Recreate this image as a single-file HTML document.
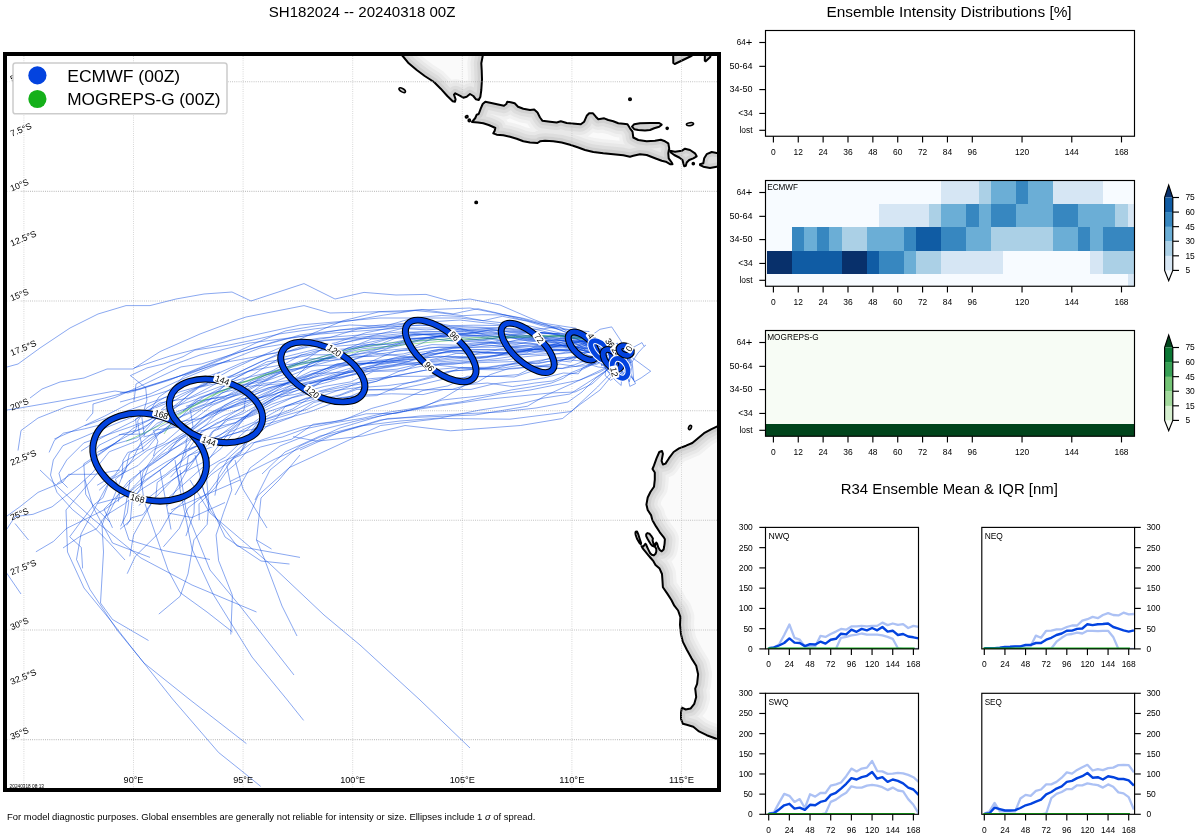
<!DOCTYPE html>
<html><head><meta charset="utf-8"><title>SH182024 ensemble tracks</title>
<style>
html,body{margin:0;padding:0;background:#fff;}
body{width:1200px;height:840px;overflow:hidden;font-family:"Liberation Sans",sans-serif;}
svg{display:block;will-change:transform;font-family:"Liberation Sans",sans-serif;}
</style></head><body>
<svg width="1200" height="840" viewBox="0 0 1200 840">
<rect x="0" y="0" width="1200" height="840" fill="#fff"/>
<defs>
<clipPath id="mapclip"><rect x="5" y="54" width="714" height="736"/></clipPath>
<clipPath id="c_sum"><polygon points="372.0,20.0 402.7,56.0 408.7,63.3 416.7,70.0 424.7,76.0 434.0,82.0 440.7,88.7 447.3,96.0 452.7,101.3 455.0,101.7 455.6,99.3 454.0,94.7 455.3,93.3 459.3,95.3 463.3,97.7 466.7,96.7 470.0,94.0 473.3,96.0 476.0,99.3 478.7,100.0 480.4,96.7 481.3,90.0 482.0,79.3 481.7,70.0 481.3,63.3 482.7,56.0 486.0,20.0"/></clipPath>
<clipPath id="c_java"><polygon points="472.0,122.0 475.3,118.0 476.7,114.7 478.7,114.0 480.7,108.7 482.7,104.0 485.3,101.7 491.3,103.0 499.3,104.7 504.0,105.7 506.3,104.0 507.3,101.7 510.7,102.3 514.7,103.3 518.0,106.7 523.3,108.7 530.0,109.9 534.2,109.5 537.5,112.5 540.0,117.5 542.5,120.8 550.0,121.7 556.7,122.5 560.8,121.3 566.7,123.0 575.0,123.7 580.8,124.2 584.2,121.7 586.7,115.8 589.2,113.3 593.0,113.3 595.8,116.7 598.3,119.2 604.2,118.3 608.3,120.0 613.3,121.3 618.3,123.3 623.3,123.7 627.5,124.2 630.0,128.3 632.5,131.7 633.3,137.5 638.3,140.0 646.7,141.3 655.0,140.8 660.8,139.7 665.0,141.3 668.3,143.3 669.2,148.3 668.3,153.3 668.7,158.3 671.7,162.5 672.5,164.2 670.0,164.2 665.8,161.7 661.7,160.8 655.0,158.3 646.7,155.0 640.0,154.2 633.3,155.8 630.0,156.7 623.3,155.3 613.3,154.2 603.3,153.3 593.3,152.0 585.0,150.0 578.3,147.5 570.0,144.7 561.7,142.5 553.3,141.3 545.0,140.8 540.0,141.3 537.5,143.0 530.0,142.6 523.3,141.3 516.7,138.7 510.0,136.7 503.3,135.3 496.7,134.7 493.3,133.3 494.7,130.7 495.3,128.0 493.3,127.0 488.7,125.0 483.3,123.3 478.0,122.4"/></clipPath>
<clipPath id="c_mad"><polygon points="632.0,126.7 634.2,124.2 640.0,123.3 650.0,123.0 659.2,123.0 661.7,124.7 659.2,126.7 654.2,128.3 650.0,130.0 645.0,130.5 638.3,130.0 634.2,129.2"/></clipPath>
<clipPath id="c_bali"><polygon points="670.0,150.8 675.0,151.7 681.7,150.8 685.0,148.7 690.0,150.0 695.0,153.3 696.7,156.3 693.3,158.3 689.2,160.0 686.7,162.5 685.8,165.8 684.2,166.3 683.3,163.3 682.5,160.0 679.2,157.5 674.2,155.0 670.8,152.5"/></clipPath>
<clipPath id="c_lom"><polygon points="700.0,164.2 703.3,163.3 704.2,158.3 706.7,154.2 711.7,152.0 716.7,153.0 740.0,153.0 740.0,166.7 716.7,166.7 710.0,168.0 703.3,166.7 700.0,165.0"/></clipPath>
<clipPath id="c_t1"><polygon points="673.0,40.0 673.3,63.0 674.7,64.0 691.3,56.0 720.0,40.0"/></clipPath>
<clipPath id="c_t2"><polygon points="705.0,40.0 704.8,60.7 705.7,61.3 710.3,57.0 712.0,40.0"/></clipPath>
<clipPath id="c_aus"><polygon points="760.0,410.0 717.3,426.4 711.0,429.3 704.0,433.2 698.6,437.7 692.3,443.0 686.0,445.7 679.0,448.4 673.6,452.0 669.0,458.2 665.5,463.6 662.9,464.5 661.6,460.9 662.9,453.8 662.0,451.0 659.3,452.0 656.6,458.2 654.0,465.4 652.5,469.0 654.8,472.5 654.8,479.6 654.0,486.8 650.4,492.0 647.7,497.5 646.4,504.6 647.7,510.0 651.2,515.4 652.3,520.0 656.0,526.4 659.8,532.3 663.6,537.1 664.9,539.3 664.6,543.6 664.1,546.8 663.6,549.5 661.7,551.3 659.8,550.0 658.2,547.3 657.1,543.6 656.3,542.5 655.5,543.6 655.0,545.7 653.4,543.6 652.6,540.4 652.9,538.5 651.2,535.8 649.4,533.7 647.5,533.1 646.2,534.2 646.2,536.1 647.5,538.8 649.1,541.4 650.7,544.1 652.3,545.7 655.0,546.8 656.3,548.9 656.3,551.6 655.5,553.8 653.9,555.4 651.8,554.8 650.2,553.2 649.1,551.1 648.0,548.9 647.0,546.8 646.2,544.6 645.4,543.8 644.3,545.2 643.2,546.5 641.6,546.2 642.7,548.4 645.4,551.6 648.0,554.8 650.7,558.0 653.4,561.2 655.5,565.0 659.6,568.6 662.0,574.0 662.5,581.0 662.9,587.3 667.3,593.6 671.4,600.0 674.3,605.7 678.1,610.5 680.4,617.1 680.0,624.8 681.0,634.3 682.9,641.9 686.7,649.5 691.4,658.1 696.2,665.7 698.1,674.3 697.1,683.8 695.2,688.6 696.2,697.1 694.3,703.8 690.5,708.6 685.7,709.5 681.9,707.6 681.0,712.4 681.0,719.0 682.9,723.8 686.7,724.8 693.3,726.7 699.0,731.4 706.7,735.2 716.2,738.7 760.0,750.0"/></clipPath>
<clipPath id="c_dirk"><polygon points="635.7,531.8 637.0,531.5 638.1,533.9 639.5,538.2 641.1,543.0 640.8,544.4 639.2,542.5 637.0,538.8 635.7,535.0 635.4,532.9"/></clipPath>
</defs>
<g clip-path="url(#mapclip)">
<g clip-path="url(#c_sum)"><polygon points="372.0,20.0 402.7,56.0 408.7,63.3 416.7,70.0 424.7,76.0 434.0,82.0 440.7,88.7 447.3,96.0 452.7,101.3 455.0,101.7 455.6,99.3 454.0,94.7 455.3,93.3 459.3,95.3 463.3,97.7 466.7,96.7 470.0,94.0 473.3,96.0 476.0,99.3 478.7,100.0 480.4,96.7 481.3,90.0 482.0,79.3 481.7,70.0 481.3,63.3 482.7,56.0 486.0,20.0" fill="#fafafa"/>
<polygon points="372.0,20.0 402.7,56.0 408.7,63.3 416.7,70.0 424.7,76.0 434.0,82.0 440.7,88.7 447.3,96.0 452.7,101.3 455.0,101.7 455.6,99.3 454.0,94.7 455.3,93.3 459.3,95.3 463.3,97.7 466.7,96.7 470.0,94.0 473.3,96.0 476.0,99.3 478.7,100.0 480.4,96.7 481.3,90.0 482.0,79.3 481.7,70.0 481.3,63.3 482.7,56.0 486.0,20.0" fill="none" stroke="#f1f1f1" stroke-width="28" stroke-linejoin="round"/>
<polygon points="372.0,20.0 402.7,56.0 408.7,63.3 416.7,70.0 424.7,76.0 434.0,82.0 440.7,88.7 447.3,96.0 452.7,101.3 455.0,101.7 455.6,99.3 454.0,94.7 455.3,93.3 459.3,95.3 463.3,97.7 466.7,96.7 470.0,94.0 473.3,96.0 476.0,99.3 478.7,100.0 480.4,96.7 481.3,90.0 482.0,79.3 481.7,70.0 481.3,63.3 482.7,56.0 486.0,20.0" fill="none" stroke="#e8e8e8" stroke-width="21.5" stroke-linejoin="round"/>
<polygon points="372.0,20.0 402.7,56.0 408.7,63.3 416.7,70.0 424.7,76.0 434.0,82.0 440.7,88.7 447.3,96.0 452.7,101.3 455.0,101.7 455.6,99.3 454.0,94.7 455.3,93.3 459.3,95.3 463.3,97.7 466.7,96.7 470.0,94.0 473.3,96.0 476.0,99.3 478.7,100.0 480.4,96.7 481.3,90.0 482.0,79.3 481.7,70.0 481.3,63.3 482.7,56.0 486.0,20.0" fill="none" stroke="#dddddd" stroke-width="15" stroke-linejoin="round"/>
<polygon points="372.0,20.0 402.7,56.0 408.7,63.3 416.7,70.0 424.7,76.0 434.0,82.0 440.7,88.7 447.3,96.0 452.7,101.3 455.0,101.7 455.6,99.3 454.0,94.7 455.3,93.3 459.3,95.3 463.3,97.7 466.7,96.7 470.0,94.0 473.3,96.0 476.0,99.3 478.7,100.0 480.4,96.7 481.3,90.0 482.0,79.3 481.7,70.0 481.3,63.3 482.7,56.0 486.0,20.0" fill="none" stroke="#d0d0d0" stroke-width="8.4" stroke-linejoin="round"/>
</g>
<g clip-path="url(#c_java)"><polygon points="472.0,122.0 475.3,118.0 476.7,114.7 478.7,114.0 480.7,108.7 482.7,104.0 485.3,101.7 491.3,103.0 499.3,104.7 504.0,105.7 506.3,104.0 507.3,101.7 510.7,102.3 514.7,103.3 518.0,106.7 523.3,108.7 530.0,109.9 534.2,109.5 537.5,112.5 540.0,117.5 542.5,120.8 550.0,121.7 556.7,122.5 560.8,121.3 566.7,123.0 575.0,123.7 580.8,124.2 584.2,121.7 586.7,115.8 589.2,113.3 593.0,113.3 595.8,116.7 598.3,119.2 604.2,118.3 608.3,120.0 613.3,121.3 618.3,123.3 623.3,123.7 627.5,124.2 630.0,128.3 632.5,131.7 633.3,137.5 638.3,140.0 646.7,141.3 655.0,140.8 660.8,139.7 665.0,141.3 668.3,143.3 669.2,148.3 668.3,153.3 668.7,158.3 671.7,162.5 672.5,164.2 670.0,164.2 665.8,161.7 661.7,160.8 655.0,158.3 646.7,155.0 640.0,154.2 633.3,155.8 630.0,156.7 623.3,155.3 613.3,154.2 603.3,153.3 593.3,152.0 585.0,150.0 578.3,147.5 570.0,144.7 561.7,142.5 553.3,141.3 545.0,140.8 540.0,141.3 537.5,143.0 530.0,142.6 523.3,141.3 516.7,138.7 510.0,136.7 503.3,135.3 496.7,134.7 493.3,133.3 494.7,130.7 495.3,128.0 493.3,127.0 488.7,125.0 483.3,123.3 478.0,122.4" fill="#fafafa"/>
<polygon points="472.0,122.0 475.3,118.0 476.7,114.7 478.7,114.0 480.7,108.7 482.7,104.0 485.3,101.7 491.3,103.0 499.3,104.7 504.0,105.7 506.3,104.0 507.3,101.7 510.7,102.3 514.7,103.3 518.0,106.7 523.3,108.7 530.0,109.9 534.2,109.5 537.5,112.5 540.0,117.5 542.5,120.8 550.0,121.7 556.7,122.5 560.8,121.3 566.7,123.0 575.0,123.7 580.8,124.2 584.2,121.7 586.7,115.8 589.2,113.3 593.0,113.3 595.8,116.7 598.3,119.2 604.2,118.3 608.3,120.0 613.3,121.3 618.3,123.3 623.3,123.7 627.5,124.2 630.0,128.3 632.5,131.7 633.3,137.5 638.3,140.0 646.7,141.3 655.0,140.8 660.8,139.7 665.0,141.3 668.3,143.3 669.2,148.3 668.3,153.3 668.7,158.3 671.7,162.5 672.5,164.2 670.0,164.2 665.8,161.7 661.7,160.8 655.0,158.3 646.7,155.0 640.0,154.2 633.3,155.8 630.0,156.7 623.3,155.3 613.3,154.2 603.3,153.3 593.3,152.0 585.0,150.0 578.3,147.5 570.0,144.7 561.7,142.5 553.3,141.3 545.0,140.8 540.0,141.3 537.5,143.0 530.0,142.6 523.3,141.3 516.7,138.7 510.0,136.7 503.3,135.3 496.7,134.7 493.3,133.3 494.7,130.7 495.3,128.0 493.3,127.0 488.7,125.0 483.3,123.3 478.0,122.4" fill="none" stroke="#f1f1f1" stroke-width="28" stroke-linejoin="round"/>
<polygon points="472.0,122.0 475.3,118.0 476.7,114.7 478.7,114.0 480.7,108.7 482.7,104.0 485.3,101.7 491.3,103.0 499.3,104.7 504.0,105.7 506.3,104.0 507.3,101.7 510.7,102.3 514.7,103.3 518.0,106.7 523.3,108.7 530.0,109.9 534.2,109.5 537.5,112.5 540.0,117.5 542.5,120.8 550.0,121.7 556.7,122.5 560.8,121.3 566.7,123.0 575.0,123.7 580.8,124.2 584.2,121.7 586.7,115.8 589.2,113.3 593.0,113.3 595.8,116.7 598.3,119.2 604.2,118.3 608.3,120.0 613.3,121.3 618.3,123.3 623.3,123.7 627.5,124.2 630.0,128.3 632.5,131.7 633.3,137.5 638.3,140.0 646.7,141.3 655.0,140.8 660.8,139.7 665.0,141.3 668.3,143.3 669.2,148.3 668.3,153.3 668.7,158.3 671.7,162.5 672.5,164.2 670.0,164.2 665.8,161.7 661.7,160.8 655.0,158.3 646.7,155.0 640.0,154.2 633.3,155.8 630.0,156.7 623.3,155.3 613.3,154.2 603.3,153.3 593.3,152.0 585.0,150.0 578.3,147.5 570.0,144.7 561.7,142.5 553.3,141.3 545.0,140.8 540.0,141.3 537.5,143.0 530.0,142.6 523.3,141.3 516.7,138.7 510.0,136.7 503.3,135.3 496.7,134.7 493.3,133.3 494.7,130.7 495.3,128.0 493.3,127.0 488.7,125.0 483.3,123.3 478.0,122.4" fill="none" stroke="#e8e8e8" stroke-width="21.5" stroke-linejoin="round"/>
<polygon points="472.0,122.0 475.3,118.0 476.7,114.7 478.7,114.0 480.7,108.7 482.7,104.0 485.3,101.7 491.3,103.0 499.3,104.7 504.0,105.7 506.3,104.0 507.3,101.7 510.7,102.3 514.7,103.3 518.0,106.7 523.3,108.7 530.0,109.9 534.2,109.5 537.5,112.5 540.0,117.5 542.5,120.8 550.0,121.7 556.7,122.5 560.8,121.3 566.7,123.0 575.0,123.7 580.8,124.2 584.2,121.7 586.7,115.8 589.2,113.3 593.0,113.3 595.8,116.7 598.3,119.2 604.2,118.3 608.3,120.0 613.3,121.3 618.3,123.3 623.3,123.7 627.5,124.2 630.0,128.3 632.5,131.7 633.3,137.5 638.3,140.0 646.7,141.3 655.0,140.8 660.8,139.7 665.0,141.3 668.3,143.3 669.2,148.3 668.3,153.3 668.7,158.3 671.7,162.5 672.5,164.2 670.0,164.2 665.8,161.7 661.7,160.8 655.0,158.3 646.7,155.0 640.0,154.2 633.3,155.8 630.0,156.7 623.3,155.3 613.3,154.2 603.3,153.3 593.3,152.0 585.0,150.0 578.3,147.5 570.0,144.7 561.7,142.5 553.3,141.3 545.0,140.8 540.0,141.3 537.5,143.0 530.0,142.6 523.3,141.3 516.7,138.7 510.0,136.7 503.3,135.3 496.7,134.7 493.3,133.3 494.7,130.7 495.3,128.0 493.3,127.0 488.7,125.0 483.3,123.3 478.0,122.4" fill="none" stroke="#dddddd" stroke-width="15" stroke-linejoin="round"/>
<polygon points="472.0,122.0 475.3,118.0 476.7,114.7 478.7,114.0 480.7,108.7 482.7,104.0 485.3,101.7 491.3,103.0 499.3,104.7 504.0,105.7 506.3,104.0 507.3,101.7 510.7,102.3 514.7,103.3 518.0,106.7 523.3,108.7 530.0,109.9 534.2,109.5 537.5,112.5 540.0,117.5 542.5,120.8 550.0,121.7 556.7,122.5 560.8,121.3 566.7,123.0 575.0,123.7 580.8,124.2 584.2,121.7 586.7,115.8 589.2,113.3 593.0,113.3 595.8,116.7 598.3,119.2 604.2,118.3 608.3,120.0 613.3,121.3 618.3,123.3 623.3,123.7 627.5,124.2 630.0,128.3 632.5,131.7 633.3,137.5 638.3,140.0 646.7,141.3 655.0,140.8 660.8,139.7 665.0,141.3 668.3,143.3 669.2,148.3 668.3,153.3 668.7,158.3 671.7,162.5 672.5,164.2 670.0,164.2 665.8,161.7 661.7,160.8 655.0,158.3 646.7,155.0 640.0,154.2 633.3,155.8 630.0,156.7 623.3,155.3 613.3,154.2 603.3,153.3 593.3,152.0 585.0,150.0 578.3,147.5 570.0,144.7 561.7,142.5 553.3,141.3 545.0,140.8 540.0,141.3 537.5,143.0 530.0,142.6 523.3,141.3 516.7,138.7 510.0,136.7 503.3,135.3 496.7,134.7 493.3,133.3 494.7,130.7 495.3,128.0 493.3,127.0 488.7,125.0 483.3,123.3 478.0,122.4" fill="none" stroke="#d0d0d0" stroke-width="8.4" stroke-linejoin="round"/>
</g>
<g clip-path="url(#c_mad)"><polygon points="632.0,126.7 634.2,124.2 640.0,123.3 650.0,123.0 659.2,123.0 661.7,124.7 659.2,126.7 654.2,128.3 650.0,130.0 645.0,130.5 638.3,130.0 634.2,129.2" fill="#fafafa"/>
<polygon points="632.0,126.7 634.2,124.2 640.0,123.3 650.0,123.0 659.2,123.0 661.7,124.7 659.2,126.7 654.2,128.3 650.0,130.0 645.0,130.5 638.3,130.0 634.2,129.2" fill="none" stroke="#f1f1f1" stroke-width="28" stroke-linejoin="round"/>
<polygon points="632.0,126.7 634.2,124.2 640.0,123.3 650.0,123.0 659.2,123.0 661.7,124.7 659.2,126.7 654.2,128.3 650.0,130.0 645.0,130.5 638.3,130.0 634.2,129.2" fill="none" stroke="#e8e8e8" stroke-width="21.5" stroke-linejoin="round"/>
<polygon points="632.0,126.7 634.2,124.2 640.0,123.3 650.0,123.0 659.2,123.0 661.7,124.7 659.2,126.7 654.2,128.3 650.0,130.0 645.0,130.5 638.3,130.0 634.2,129.2" fill="none" stroke="#dddddd" stroke-width="15" stroke-linejoin="round"/>
<polygon points="632.0,126.7 634.2,124.2 640.0,123.3 650.0,123.0 659.2,123.0 661.7,124.7 659.2,126.7 654.2,128.3 650.0,130.0 645.0,130.5 638.3,130.0 634.2,129.2" fill="none" stroke="#d0d0d0" stroke-width="8.4" stroke-linejoin="round"/>
</g>
<g clip-path="url(#c_bali)"><polygon points="670.0,150.8 675.0,151.7 681.7,150.8 685.0,148.7 690.0,150.0 695.0,153.3 696.7,156.3 693.3,158.3 689.2,160.0 686.7,162.5 685.8,165.8 684.2,166.3 683.3,163.3 682.5,160.0 679.2,157.5 674.2,155.0 670.8,152.5" fill="#fafafa"/>
<polygon points="670.0,150.8 675.0,151.7 681.7,150.8 685.0,148.7 690.0,150.0 695.0,153.3 696.7,156.3 693.3,158.3 689.2,160.0 686.7,162.5 685.8,165.8 684.2,166.3 683.3,163.3 682.5,160.0 679.2,157.5 674.2,155.0 670.8,152.5" fill="none" stroke="#f1f1f1" stroke-width="28" stroke-linejoin="round"/>
<polygon points="670.0,150.8 675.0,151.7 681.7,150.8 685.0,148.7 690.0,150.0 695.0,153.3 696.7,156.3 693.3,158.3 689.2,160.0 686.7,162.5 685.8,165.8 684.2,166.3 683.3,163.3 682.5,160.0 679.2,157.5 674.2,155.0 670.8,152.5" fill="none" stroke="#e8e8e8" stroke-width="21.5" stroke-linejoin="round"/>
<polygon points="670.0,150.8 675.0,151.7 681.7,150.8 685.0,148.7 690.0,150.0 695.0,153.3 696.7,156.3 693.3,158.3 689.2,160.0 686.7,162.5 685.8,165.8 684.2,166.3 683.3,163.3 682.5,160.0 679.2,157.5 674.2,155.0 670.8,152.5" fill="none" stroke="#dddddd" stroke-width="15" stroke-linejoin="round"/>
<polygon points="670.0,150.8 675.0,151.7 681.7,150.8 685.0,148.7 690.0,150.0 695.0,153.3 696.7,156.3 693.3,158.3 689.2,160.0 686.7,162.5 685.8,165.8 684.2,166.3 683.3,163.3 682.5,160.0 679.2,157.5 674.2,155.0 670.8,152.5" fill="none" stroke="#d0d0d0" stroke-width="8.4" stroke-linejoin="round"/>
</g>
<g clip-path="url(#c_lom)"><polygon points="700.0,164.2 703.3,163.3 704.2,158.3 706.7,154.2 711.7,152.0 716.7,153.0 740.0,153.0 740.0,166.7 716.7,166.7 710.0,168.0 703.3,166.7 700.0,165.0" fill="#fafafa"/>
<polygon points="700.0,164.2 703.3,163.3 704.2,158.3 706.7,154.2 711.7,152.0 716.7,153.0 740.0,153.0 740.0,166.7 716.7,166.7 710.0,168.0 703.3,166.7 700.0,165.0" fill="none" stroke="#f1f1f1" stroke-width="28" stroke-linejoin="round"/>
<polygon points="700.0,164.2 703.3,163.3 704.2,158.3 706.7,154.2 711.7,152.0 716.7,153.0 740.0,153.0 740.0,166.7 716.7,166.7 710.0,168.0 703.3,166.7 700.0,165.0" fill="none" stroke="#e8e8e8" stroke-width="21.5" stroke-linejoin="round"/>
<polygon points="700.0,164.2 703.3,163.3 704.2,158.3 706.7,154.2 711.7,152.0 716.7,153.0 740.0,153.0 740.0,166.7 716.7,166.7 710.0,168.0 703.3,166.7 700.0,165.0" fill="none" stroke="#dddddd" stroke-width="15" stroke-linejoin="round"/>
<polygon points="700.0,164.2 703.3,163.3 704.2,158.3 706.7,154.2 711.7,152.0 716.7,153.0 740.0,153.0 740.0,166.7 716.7,166.7 710.0,168.0 703.3,166.7 700.0,165.0" fill="none" stroke="#d0d0d0" stroke-width="8.4" stroke-linejoin="round"/>
</g>
<g clip-path="url(#c_t1)"><polygon points="673.0,40.0 673.3,63.0 674.7,64.0 691.3,56.0 720.0,40.0" fill="#fafafa"/>
<polygon points="673.0,40.0 673.3,63.0 674.7,64.0 691.3,56.0 720.0,40.0" fill="none" stroke="#f1f1f1" stroke-width="28" stroke-linejoin="round"/>
<polygon points="673.0,40.0 673.3,63.0 674.7,64.0 691.3,56.0 720.0,40.0" fill="none" stroke="#e8e8e8" stroke-width="21.5" stroke-linejoin="round"/>
<polygon points="673.0,40.0 673.3,63.0 674.7,64.0 691.3,56.0 720.0,40.0" fill="none" stroke="#dddddd" stroke-width="15" stroke-linejoin="round"/>
<polygon points="673.0,40.0 673.3,63.0 674.7,64.0 691.3,56.0 720.0,40.0" fill="none" stroke="#d0d0d0" stroke-width="8.4" stroke-linejoin="round"/>
</g>
<g clip-path="url(#c_t2)"><polygon points="705.0,40.0 704.8,60.7 705.7,61.3 710.3,57.0 712.0,40.0" fill="#fafafa"/>
<polygon points="705.0,40.0 704.8,60.7 705.7,61.3 710.3,57.0 712.0,40.0" fill="none" stroke="#f1f1f1" stroke-width="28" stroke-linejoin="round"/>
<polygon points="705.0,40.0 704.8,60.7 705.7,61.3 710.3,57.0 712.0,40.0" fill="none" stroke="#e8e8e8" stroke-width="21.5" stroke-linejoin="round"/>
<polygon points="705.0,40.0 704.8,60.7 705.7,61.3 710.3,57.0 712.0,40.0" fill="none" stroke="#dddddd" stroke-width="15" stroke-linejoin="round"/>
<polygon points="705.0,40.0 704.8,60.7 705.7,61.3 710.3,57.0 712.0,40.0" fill="none" stroke="#d0d0d0" stroke-width="8.4" stroke-linejoin="round"/>
</g>
<g clip-path="url(#c_aus)"><polygon points="760.0,410.0 717.3,426.4 711.0,429.3 704.0,433.2 698.6,437.7 692.3,443.0 686.0,445.7 679.0,448.4 673.6,452.0 669.0,458.2 665.5,463.6 662.9,464.5 661.6,460.9 662.9,453.8 662.0,451.0 659.3,452.0 656.6,458.2 654.0,465.4 652.5,469.0 654.8,472.5 654.8,479.6 654.0,486.8 650.4,492.0 647.7,497.5 646.4,504.6 647.7,510.0 651.2,515.4 652.3,520.0 656.0,526.4 659.8,532.3 663.6,537.1 664.9,539.3 664.6,543.6 664.1,546.8 663.6,549.5 661.7,551.3 659.8,550.0 658.2,547.3 657.1,543.6 656.3,542.5 655.5,543.6 655.0,545.7 653.4,543.6 652.6,540.4 652.9,538.5 651.2,535.8 649.4,533.7 647.5,533.1 646.2,534.2 646.2,536.1 647.5,538.8 649.1,541.4 650.7,544.1 652.3,545.7 655.0,546.8 656.3,548.9 656.3,551.6 655.5,553.8 653.9,555.4 651.8,554.8 650.2,553.2 649.1,551.1 648.0,548.9 647.0,546.8 646.2,544.6 645.4,543.8 644.3,545.2 643.2,546.5 641.6,546.2 642.7,548.4 645.4,551.6 648.0,554.8 650.7,558.0 653.4,561.2 655.5,565.0 659.6,568.6 662.0,574.0 662.5,581.0 662.9,587.3 667.3,593.6 671.4,600.0 674.3,605.7 678.1,610.5 680.4,617.1 680.0,624.8 681.0,634.3 682.9,641.9 686.7,649.5 691.4,658.1 696.2,665.7 698.1,674.3 697.1,683.8 695.2,688.6 696.2,697.1 694.3,703.8 690.5,708.6 685.7,709.5 681.9,707.6 681.0,712.4 681.0,719.0 682.9,723.8 686.7,724.8 693.3,726.7 699.0,731.4 706.7,735.2 716.2,738.7 760.0,750.0" fill="#fafafa"/>
<polygon points="760.0,410.0 717.3,426.4 711.0,429.3 704.0,433.2 698.6,437.7 692.3,443.0 686.0,445.7 679.0,448.4 673.6,452.0 669.0,458.2 665.5,463.6 662.9,464.5 661.6,460.9 662.9,453.8 662.0,451.0 659.3,452.0 656.6,458.2 654.0,465.4 652.5,469.0 654.8,472.5 654.8,479.6 654.0,486.8 650.4,492.0 647.7,497.5 646.4,504.6 647.7,510.0 651.2,515.4 652.3,520.0 656.0,526.4 659.8,532.3 663.6,537.1 664.9,539.3 664.6,543.6 664.1,546.8 663.6,549.5 661.7,551.3 659.8,550.0 658.2,547.3 657.1,543.6 656.3,542.5 655.5,543.6 655.0,545.7 653.4,543.6 652.6,540.4 652.9,538.5 651.2,535.8 649.4,533.7 647.5,533.1 646.2,534.2 646.2,536.1 647.5,538.8 649.1,541.4 650.7,544.1 652.3,545.7 655.0,546.8 656.3,548.9 656.3,551.6 655.5,553.8 653.9,555.4 651.8,554.8 650.2,553.2 649.1,551.1 648.0,548.9 647.0,546.8 646.2,544.6 645.4,543.8 644.3,545.2 643.2,546.5 641.6,546.2 642.7,548.4 645.4,551.6 648.0,554.8 650.7,558.0 653.4,561.2 655.5,565.0 659.6,568.6 662.0,574.0 662.5,581.0 662.9,587.3 667.3,593.6 671.4,600.0 674.3,605.7 678.1,610.5 680.4,617.1 680.0,624.8 681.0,634.3 682.9,641.9 686.7,649.5 691.4,658.1 696.2,665.7 698.1,674.3 697.1,683.8 695.2,688.6 696.2,697.1 694.3,703.8 690.5,708.6 685.7,709.5 681.9,707.6 681.0,712.4 681.0,719.0 682.9,723.8 686.7,724.8 693.3,726.7 699.0,731.4 706.7,735.2 716.2,738.7 760.0,750.0" fill="none" stroke="#f1f1f1" stroke-width="28" stroke-linejoin="round"/>
<polygon points="760.0,410.0 717.3,426.4 711.0,429.3 704.0,433.2 698.6,437.7 692.3,443.0 686.0,445.7 679.0,448.4 673.6,452.0 669.0,458.2 665.5,463.6 662.9,464.5 661.6,460.9 662.9,453.8 662.0,451.0 659.3,452.0 656.6,458.2 654.0,465.4 652.5,469.0 654.8,472.5 654.8,479.6 654.0,486.8 650.4,492.0 647.7,497.5 646.4,504.6 647.7,510.0 651.2,515.4 652.3,520.0 656.0,526.4 659.8,532.3 663.6,537.1 664.9,539.3 664.6,543.6 664.1,546.8 663.6,549.5 661.7,551.3 659.8,550.0 658.2,547.3 657.1,543.6 656.3,542.5 655.5,543.6 655.0,545.7 653.4,543.6 652.6,540.4 652.9,538.5 651.2,535.8 649.4,533.7 647.5,533.1 646.2,534.2 646.2,536.1 647.5,538.8 649.1,541.4 650.7,544.1 652.3,545.7 655.0,546.8 656.3,548.9 656.3,551.6 655.5,553.8 653.9,555.4 651.8,554.8 650.2,553.2 649.1,551.1 648.0,548.9 647.0,546.8 646.2,544.6 645.4,543.8 644.3,545.2 643.2,546.5 641.6,546.2 642.7,548.4 645.4,551.6 648.0,554.8 650.7,558.0 653.4,561.2 655.5,565.0 659.6,568.6 662.0,574.0 662.5,581.0 662.9,587.3 667.3,593.6 671.4,600.0 674.3,605.7 678.1,610.5 680.4,617.1 680.0,624.8 681.0,634.3 682.9,641.9 686.7,649.5 691.4,658.1 696.2,665.7 698.1,674.3 697.1,683.8 695.2,688.6 696.2,697.1 694.3,703.8 690.5,708.6 685.7,709.5 681.9,707.6 681.0,712.4 681.0,719.0 682.9,723.8 686.7,724.8 693.3,726.7 699.0,731.4 706.7,735.2 716.2,738.7 760.0,750.0" fill="none" stroke="#e8e8e8" stroke-width="21.5" stroke-linejoin="round"/>
<polygon points="760.0,410.0 717.3,426.4 711.0,429.3 704.0,433.2 698.6,437.7 692.3,443.0 686.0,445.7 679.0,448.4 673.6,452.0 669.0,458.2 665.5,463.6 662.9,464.5 661.6,460.9 662.9,453.8 662.0,451.0 659.3,452.0 656.6,458.2 654.0,465.4 652.5,469.0 654.8,472.5 654.8,479.6 654.0,486.8 650.4,492.0 647.7,497.5 646.4,504.6 647.7,510.0 651.2,515.4 652.3,520.0 656.0,526.4 659.8,532.3 663.6,537.1 664.9,539.3 664.6,543.6 664.1,546.8 663.6,549.5 661.7,551.3 659.8,550.0 658.2,547.3 657.1,543.6 656.3,542.5 655.5,543.6 655.0,545.7 653.4,543.6 652.6,540.4 652.9,538.5 651.2,535.8 649.4,533.7 647.5,533.1 646.2,534.2 646.2,536.1 647.5,538.8 649.1,541.4 650.7,544.1 652.3,545.7 655.0,546.8 656.3,548.9 656.3,551.6 655.5,553.8 653.9,555.4 651.8,554.8 650.2,553.2 649.1,551.1 648.0,548.9 647.0,546.8 646.2,544.6 645.4,543.8 644.3,545.2 643.2,546.5 641.6,546.2 642.7,548.4 645.4,551.6 648.0,554.8 650.7,558.0 653.4,561.2 655.5,565.0 659.6,568.6 662.0,574.0 662.5,581.0 662.9,587.3 667.3,593.6 671.4,600.0 674.3,605.7 678.1,610.5 680.4,617.1 680.0,624.8 681.0,634.3 682.9,641.9 686.7,649.5 691.4,658.1 696.2,665.7 698.1,674.3 697.1,683.8 695.2,688.6 696.2,697.1 694.3,703.8 690.5,708.6 685.7,709.5 681.9,707.6 681.0,712.4 681.0,719.0 682.9,723.8 686.7,724.8 693.3,726.7 699.0,731.4 706.7,735.2 716.2,738.7 760.0,750.0" fill="none" stroke="#dddddd" stroke-width="15" stroke-linejoin="round"/>
<polygon points="760.0,410.0 717.3,426.4 711.0,429.3 704.0,433.2 698.6,437.7 692.3,443.0 686.0,445.7 679.0,448.4 673.6,452.0 669.0,458.2 665.5,463.6 662.9,464.5 661.6,460.9 662.9,453.8 662.0,451.0 659.3,452.0 656.6,458.2 654.0,465.4 652.5,469.0 654.8,472.5 654.8,479.6 654.0,486.8 650.4,492.0 647.7,497.5 646.4,504.6 647.7,510.0 651.2,515.4 652.3,520.0 656.0,526.4 659.8,532.3 663.6,537.1 664.9,539.3 664.6,543.6 664.1,546.8 663.6,549.5 661.7,551.3 659.8,550.0 658.2,547.3 657.1,543.6 656.3,542.5 655.5,543.6 655.0,545.7 653.4,543.6 652.6,540.4 652.9,538.5 651.2,535.8 649.4,533.7 647.5,533.1 646.2,534.2 646.2,536.1 647.5,538.8 649.1,541.4 650.7,544.1 652.3,545.7 655.0,546.8 656.3,548.9 656.3,551.6 655.5,553.8 653.9,555.4 651.8,554.8 650.2,553.2 649.1,551.1 648.0,548.9 647.0,546.8 646.2,544.6 645.4,543.8 644.3,545.2 643.2,546.5 641.6,546.2 642.7,548.4 645.4,551.6 648.0,554.8 650.7,558.0 653.4,561.2 655.5,565.0 659.6,568.6 662.0,574.0 662.5,581.0 662.9,587.3 667.3,593.6 671.4,600.0 674.3,605.7 678.1,610.5 680.4,617.1 680.0,624.8 681.0,634.3 682.9,641.9 686.7,649.5 691.4,658.1 696.2,665.7 698.1,674.3 697.1,683.8 695.2,688.6 696.2,697.1 694.3,703.8 690.5,708.6 685.7,709.5 681.9,707.6 681.0,712.4 681.0,719.0 682.9,723.8 686.7,724.8 693.3,726.7 699.0,731.4 706.7,735.2 716.2,738.7 760.0,750.0" fill="none" stroke="#d0d0d0" stroke-width="8.4" stroke-linejoin="round"/>
</g>
<g clip-path="url(#c_dirk)"><polygon points="635.7,531.8 637.0,531.5 638.1,533.9 639.5,538.2 641.1,543.0 640.8,544.4 639.2,542.5 637.0,538.8 635.7,535.0 635.4,532.9" fill="#fafafa"/>
<polygon points="635.7,531.8 637.0,531.5 638.1,533.9 639.5,538.2 641.1,543.0 640.8,544.4 639.2,542.5 637.0,538.8 635.7,535.0 635.4,532.9" fill="none" stroke="#f1f1f1" stroke-width="28" stroke-linejoin="round"/>
<polygon points="635.7,531.8 637.0,531.5 638.1,533.9 639.5,538.2 641.1,543.0 640.8,544.4 639.2,542.5 637.0,538.8 635.7,535.0 635.4,532.9" fill="none" stroke="#e8e8e8" stroke-width="21.5" stroke-linejoin="round"/>
<polygon points="635.7,531.8 637.0,531.5 638.1,533.9 639.5,538.2 641.1,543.0 640.8,544.4 639.2,542.5 637.0,538.8 635.7,535.0 635.4,532.9" fill="none" stroke="#dddddd" stroke-width="15" stroke-linejoin="round"/>
<polygon points="635.7,531.8 637.0,531.5 638.1,533.9 639.5,538.2 641.1,543.0 640.8,544.4 639.2,542.5 637.0,538.8 635.7,535.0 635.4,532.9" fill="none" stroke="#d0d0d0" stroke-width="8.4" stroke-linejoin="round"/>
</g>
<polygon points="372.0,20.0 402.7,56.0 408.7,63.3 416.7,70.0 424.7,76.0 434.0,82.0 440.7,88.7 447.3,96.0 452.7,101.3 455.0,101.7 455.6,99.3 454.0,94.7 455.3,93.3 459.3,95.3 463.3,97.7 466.7,96.7 470.0,94.0 473.3,96.0 476.0,99.3 478.7,100.0 480.4,96.7 481.3,90.0 482.0,79.3 481.7,70.0 481.3,63.3 482.7,56.0 486.0,20.0" fill="none" stroke="#000" stroke-width="2.0" stroke-linejoin="round"/>
<polygon points="472.0,122.0 475.3,118.0 476.7,114.7 478.7,114.0 480.7,108.7 482.7,104.0 485.3,101.7 491.3,103.0 499.3,104.7 504.0,105.7 506.3,104.0 507.3,101.7 510.7,102.3 514.7,103.3 518.0,106.7 523.3,108.7 530.0,109.9 534.2,109.5 537.5,112.5 540.0,117.5 542.5,120.8 550.0,121.7 556.7,122.5 560.8,121.3 566.7,123.0 575.0,123.7 580.8,124.2 584.2,121.7 586.7,115.8 589.2,113.3 593.0,113.3 595.8,116.7 598.3,119.2 604.2,118.3 608.3,120.0 613.3,121.3 618.3,123.3 623.3,123.7 627.5,124.2 630.0,128.3 632.5,131.7 633.3,137.5 638.3,140.0 646.7,141.3 655.0,140.8 660.8,139.7 665.0,141.3 668.3,143.3 669.2,148.3 668.3,153.3 668.7,158.3 671.7,162.5 672.5,164.2 670.0,164.2 665.8,161.7 661.7,160.8 655.0,158.3 646.7,155.0 640.0,154.2 633.3,155.8 630.0,156.7 623.3,155.3 613.3,154.2 603.3,153.3 593.3,152.0 585.0,150.0 578.3,147.5 570.0,144.7 561.7,142.5 553.3,141.3 545.0,140.8 540.0,141.3 537.5,143.0 530.0,142.6 523.3,141.3 516.7,138.7 510.0,136.7 503.3,135.3 496.7,134.7 493.3,133.3 494.7,130.7 495.3,128.0 493.3,127.0 488.7,125.0 483.3,123.3 478.0,122.4" fill="none" stroke="#000" stroke-width="2.0" stroke-linejoin="round"/>
<polygon points="632.0,126.7 634.2,124.2 640.0,123.3 650.0,123.0 659.2,123.0 661.7,124.7 659.2,126.7 654.2,128.3 650.0,130.0 645.0,130.5 638.3,130.0 634.2,129.2" fill="none" stroke="#000" stroke-width="2.0" stroke-linejoin="round"/>
<polygon points="670.0,150.8 675.0,151.7 681.7,150.8 685.0,148.7 690.0,150.0 695.0,153.3 696.7,156.3 693.3,158.3 689.2,160.0 686.7,162.5 685.8,165.8 684.2,166.3 683.3,163.3 682.5,160.0 679.2,157.5 674.2,155.0 670.8,152.5" fill="none" stroke="#000" stroke-width="2.0" stroke-linejoin="round"/>
<polygon points="700.0,164.2 703.3,163.3 704.2,158.3 706.7,154.2 711.7,152.0 716.7,153.0 740.0,153.0 740.0,166.7 716.7,166.7 710.0,168.0 703.3,166.7 700.0,165.0" fill="none" stroke="#000" stroke-width="2.0" stroke-linejoin="round"/>
<polygon points="673.0,40.0 673.3,63.0 674.7,64.0 691.3,56.0 720.0,40.0" fill="none" stroke="#000" stroke-width="2.0" stroke-linejoin="round"/>
<polygon points="705.0,40.0 704.8,60.7 705.7,61.3 710.3,57.0 712.0,40.0" fill="none" stroke="#000" stroke-width="2.0" stroke-linejoin="round"/>
<polygon points="760.0,410.0 717.3,426.4 711.0,429.3 704.0,433.2 698.6,437.7 692.3,443.0 686.0,445.7 679.0,448.4 673.6,452.0 669.0,458.2 665.5,463.6 662.9,464.5 661.6,460.9 662.9,453.8 662.0,451.0 659.3,452.0 656.6,458.2 654.0,465.4 652.5,469.0 654.8,472.5 654.8,479.6 654.0,486.8 650.4,492.0 647.7,497.5 646.4,504.6 647.7,510.0 651.2,515.4 652.3,520.0 656.0,526.4 659.8,532.3 663.6,537.1 664.9,539.3 664.6,543.6 664.1,546.8 663.6,549.5 661.7,551.3 659.8,550.0 658.2,547.3 657.1,543.6 656.3,542.5 655.5,543.6 655.0,545.7 653.4,543.6 652.6,540.4 652.9,538.5 651.2,535.8 649.4,533.7 647.5,533.1 646.2,534.2 646.2,536.1 647.5,538.8 649.1,541.4 650.7,544.1 652.3,545.7 655.0,546.8 656.3,548.9 656.3,551.6 655.5,553.8 653.9,555.4 651.8,554.8 650.2,553.2 649.1,551.1 648.0,548.9 647.0,546.8 646.2,544.6 645.4,543.8 644.3,545.2 643.2,546.5 641.6,546.2 642.7,548.4 645.4,551.6 648.0,554.8 650.7,558.0 653.4,561.2 655.5,565.0 659.6,568.6 662.0,574.0 662.5,581.0 662.9,587.3 667.3,593.6 671.4,600.0 674.3,605.7 678.1,610.5 680.4,617.1 680.0,624.8 681.0,634.3 682.9,641.9 686.7,649.5 691.4,658.1 696.2,665.7 698.1,674.3 697.1,683.8 695.2,688.6 696.2,697.1 694.3,703.8 690.5,708.6 685.7,709.5 681.9,707.6 681.0,712.4 681.0,719.0 682.9,723.8 686.7,724.8 693.3,726.7 699.0,731.4 706.7,735.2 716.2,738.7 760.0,750.0" fill="none" stroke="#000" stroke-width="2.0" stroke-linejoin="round"/>
<polygon points="635.7,531.8 637.0,531.5 638.1,533.9 639.5,538.2 641.1,543.0 640.8,544.4 639.2,542.5 637.0,538.8 635.7,535.0 635.4,532.9" fill="none" stroke="#000" stroke-width="2.0" stroke-linejoin="round"/>
<ellipse cx="402.2" cy="90.2" rx="3.6" ry="1.6" transform="rotate(30 402.2 90.2)" fill="#d0d0d0" stroke="#000" stroke-width="1.6"/>
<ellipse cx="466.7" cy="116.7" rx="1.27" ry="1.05" transform="rotate(-20 466.7 116.7)" fill="#777" stroke="#000" stroke-width="1.7"/>
<ellipse cx="469.3" cy="120.4" rx="1.05" ry="1.27" transform="rotate(0 469.3 120.4)" fill="#777" stroke="#000" stroke-width="1.7"/>
<ellipse cx="630" cy="99.2" rx="1.20" ry="1.20" transform="rotate(0 630 99.2)" fill="#777" stroke="#000" stroke-width="1.7"/>
<ellipse cx="667.2" cy="128.3" rx="0.98" ry="0.98" transform="rotate(0 667.2 128.3)" fill="#777" stroke="#000" stroke-width="1.7"/>
<ellipse cx="693.3" cy="163.7" rx="0.98" ry="0.98" transform="rotate(0 693.3 163.7)" fill="#777" stroke="#000" stroke-width="1.7"/>
<ellipse cx="690" cy="124.2" rx="3.6" ry="1.5" transform="rotate(-8 690 124.2)" fill="#d0d0d0" stroke="#000" stroke-width="1.6"/>
<ellipse cx="476.2" cy="202.4" rx="1.12" ry="1.05" transform="rotate(0 476.2 202.4)" fill="#777" stroke="#000" stroke-width="1.7"/>
<ellipse cx="690" cy="427.5" rx="1.3" ry="2.2" transform="rotate(25 690 427.5)" fill="#d0d0d0" stroke="#000" stroke-width="1.6"/>
<g stroke="#b4b4b4" stroke-width="0.8" stroke-dasharray="0.8 1.4" fill="none" opacity="0.8">
<line x1="23.90" y1="56" x2="23.90" y2="788"/>
<line x1="133.50" y1="56" x2="133.50" y2="788"/>
<line x1="243.10" y1="56" x2="243.10" y2="788"/>
<line x1="352.70" y1="56" x2="352.70" y2="788"/>
<line x1="462.30" y1="56" x2="462.30" y2="788"/>
<line x1="571.90" y1="56" x2="571.90" y2="788"/>
<line x1="681.50" y1="56" x2="681.50" y2="788"/>
</g>
<g stroke="#acacac" stroke-width="1.05" stroke-dasharray="0.9 1.25" fill="none" opacity="0.8">
<line x1="7" y1="81.70" x2="21.4" y2="81.70" opacity="0.3"/>
<line x1="21.4" y1="81.70" x2="717" y2="81.70"/>
<line x1="7" y1="191.35" x2="21.4" y2="191.35" opacity="0.3"/>
<line x1="21.4" y1="191.35" x2="717" y2="191.35"/>
<line x1="7" y1="301.00" x2="21.4" y2="301.00" opacity="0.3"/>
<line x1="21.4" y1="301.00" x2="717" y2="301.00"/>
<line x1="7" y1="410.65" x2="21.4" y2="410.65" opacity="0.3"/>
<line x1="21.4" y1="410.65" x2="717" y2="410.65"/>
<line x1="7" y1="520.30" x2="21.4" y2="520.30" opacity="0.3"/>
<line x1="21.4" y1="520.30" x2="717" y2="520.30"/>
<line x1="7" y1="629.95" x2="21.4" y2="629.95" opacity="0.3"/>
<line x1="21.4" y1="629.95" x2="717" y2="629.95"/>
<line x1="7" y1="739.60" x2="21.4" y2="739.60" opacity="0.3"/>
<line x1="21.4" y1="739.60" x2="717" y2="739.60"/>
</g>
<g fill="none" stroke="#0343df" stroke-width="0.75" stroke-opacity="0.62" stroke-linejoin="round">
<path d="M628.0 351.0 L631.9 366.8 L629.4 381.8 L628.1 377.4 L626.8 374.4 L614.5 366.1 L614.6 361.7 L607.9 355.7 L603.2 354.8 L593.8 363.6 L582.8 367.7 L578.3 373.8 L563.4 373.0 L543.9 377.9 L526.2 380.6 L507.1 382.2 L493.5 383.9 L471.0 389.4 L443.8 389.5 L423.0 394.6 L391.5 393.8 L362.8 395.0 L334.9 398.7 L306.4 398.0 L283.6 407.2 L258.6 420.8 L248.6 434.7 L241.3 451.1 L226.8 465.5 L231.8 489.9 L223.5 512.7 L216.1 535.0 L218.6 560.6 L232.4 595.3 L230.8 634.5"/>
<path d="M625.7 352.7 L619.9 348.6 L624.8 354.6 L616.2 349.5 L607.3 348.5 L601.1 340.0 L595.0 340.5 L581.8 335.9 L575.9 328.2 L555.7 325.1 L539.2 322.5 L522.9 318.2 L505.5 315.0 L481.9 314.7 L463.1 315.7 L437.3 312.6 L415.1 310.5 L383.2 315.2 L351.2 320.7 L324.9 324.4 L285.9 330.8 L258.0 342.0 L230.7 354.9 L201.7 363.9 L181.1 366.9 L160.4 376.6 L136.1 388.1 L114.9 397.5 L93.0 404.0 L92.8 413.1 L86.1 420.9"/>
<path d="M622.4 351.6 L614.7 358.6 L612.3 366.2 L609.7 361.2 L598.4 356.4 L593.9 348.3 L593.2 342.9 L580.4 341.0 L569.1 340.8 L556.1 339.9 L542.9 341.2 L527.3 340.7 L507.0 336.9 L485.4 338.9 L459.7 340.4 L433.7 335.7 L409.1 332.9 L381.6 343.7 L347.9 347.7 L327.3 359.8 L292.5 365.6 L266.2 378.9 L235.2 386.6 L209.5 399.6 L173.7 413.1 L158.1 425.3 L137.3 437.6 L116.0 443.9 L100.1 451.1"/>
<path d="M623.8 349.1 L628.8 358.8 L625.0 368.7 L627.1 363.9 L620.5 356.7 L617.5 350.8 L610.5 349.6 L597.1 344.1 L597.8 343.7 L584.3 343.4 L576.8 347.0 L566.0 347.3 L550.0 339.7 L531.5 336.5 L509.8 335.2 L487.9 330.9 L469.6 332.9 L438.2 336.7 L410.7 339.0 L388.2 347.8 L359.8 351.4 L342.4 359.4 L311.7 361.8 L276.6 365.8 L248.0 371.3 L229.2 381.5 L216.3 393.0 L205.5 403.8 L190.3 409.6 L193.0 426.3 L186.3 439.7 L185.8 454.9 L176.0 467.0 L180.7 486.2"/>
<path d="M623.9 352.4 L609.6 359.2 L604.1 363.5 L603.4 359.1 L596.8 358.9 L589.9 351.6 L583.9 350.9 L575.4 348.1 L561.0 342.7 L546.5 346.4 L529.4 345.9 L511.8 345.9 L494.9 347.2 L468.0 347.3 L438.9 347.0 L418.4 349.9 L395.5 351.0 L366.1 363.6 L332.7 373.3 L300.7 380.1 L268.0 388.1 L238.9 402.7 L208.7 418.6 L186.8 434.0 L154.0 449.4 L138.2 465.4 L110.9 479.5 L99.1 490.3"/>
<path d="M625.3 349.0 L625.7 358.8 L621.4 364.2 L616.7 361.1 L617.8 359.7 L611.8 354.3 L601.6 355.2 L597.0 351.6 L586.6 348.0 L574.1 352.3 L560.2 353.8 L548.1 353.5 L535.9 354.3 L513.9 354.5 L493.3 355.9 L475.8 358.3 L455.0 357.2 L425.2 361.2 L403.2 370.9 L373.3 371.4 L351.1 381.8 L324.5 386.4 L294.6 394.5 L275.7 397.1 L254.1 408.4 L240.1 423.3 L224.6 435.4 L213.5 446.4 L188.4 455.6 L186.0 472.0 L176.2 489.4 L166.9 506.3"/>
<path d="M624.2 353.4 L614.8 357.3 L614.6 360.9 L607.0 355.2 L598.4 353.7 L596.3 350.2 L592.6 342.9 L578.9 336.6 L566.9 337.3 L550.8 333.8 L534.0 331.7 L518.6 331.7 L500.3 330.8 L477.3 330.9 L449.3 328.5 L426.4 329.9 L402.5 328.4 L370.7 336.1 L339.8 343.6 L307.4 351.3 L278.7 358.5 L253.5 374.4 L229.6 387.9 L202.3 397.2 L179.6 405.0 L159.2 415.4 L144.1 428.4 L121.8 434.0 L99.1 445.2 L91.1 456.9"/>
<path d="M624.4 351.8 L613.0 355.8 L622.2 365.5 L613.1 362.6 L610.5 354.1 L607.1 351.4 L594.9 348.7 L589.2 343.1 L581.7 341.5 L567.2 341.0 L552.4 338.8 L538.3 337.9 L521.2 334.6 L500.3 337.3 L479.6 340.5 L456.6 341.4 L427.0 338.0 L395.5 345.6 L363.0 348.7 L336.7 354.7 L301.2 354.9 L273.6 370.1 L247.7 381.0 L219.2 386.9 L187.5 399.2 L169.5 412.1 L155.5 418.9 L142.3 434.0 L118.9 434.6"/>
<path d="M627.0 350.5 L621.3 357.1 L622.6 366.8 L622.0 363.8 L612.3 355.9 L610.6 355.5 L604.1 349.8 L596.4 344.3 L582.2 341.4 L570.1 344.9 L558.2 345.7 L545.4 347.0 L532.6 349.6 L513.4 352.3 L494.6 352.5 L473.7 354.7 L451.4 352.4 L422.6 354.2 L393.2 359.4 L359.5 361.4 L332.3 369.8 L308.8 379.5 L280.0 386.3 L252.8 401.2 L229.8 415.1 L219.7 422.5 L201.6 431.3 L188.3 449.2"/>
<path d="M625.3 353.6 L615.8 357.1 L616.1 363.9 L612.3 356.4 L607.7 359.7 L604.2 355.1 L601.3 354.3 L588.6 348.9 L573.7 343.4 L561.2 340.6 L547.8 341.1 L532.6 340.2 L517.3 338.7 L492.6 336.3 L464.3 331.3 L444.7 331.4 L423.1 331.6 L390.7 334.7 L351.2 337.8 L317.0 340.8 L289.4 351.0 L260.9 361.6 L233.1 374.9 L195.5 388.6 L167.7 404.2 L150.0 419.8 L133.7 427.9 L115.9 442.7 L97.2 452.4"/>
<path d="M624.1 350.9 L611.2 362.8 L608.5 367.7 L602.1 363.4 L602.6 357.0 L596.3 356.6 L591.7 351.8 L578.5 352.7 L568.1 350.7 L548.8 350.0 L534.1 350.9 L517.0 350.9 L497.4 350.0 L471.2 349.3 L447.0 352.0 L421.0 357.3 L394.8 358.2 L359.8 364.9 L332.2 378.8 L300.4 386.0 L275.5 397.4 L253.1 411.1 L230.7 429.4 L206.4 441.6 L178.9 455.4 L159.1 470.6 L136.8 486.0 L124.4 496.3 L97.7 503.5"/>
<path d="M625.2 351.8 L607.9 355.6 L596.9 359.3 L596.4 356.9 L596.1 354.5 L588.4 352.4 L578.2 344.5 L568.2 339.3 L553.3 342.0 L536.0 338.1 L512.1 335.8 L492.8 333.1 L474.7 333.8 L447.7 333.2 L422.3 334.9 L399.1 337.6 L371.6 339.1 L339.5 351.6 L307.3 361.1 L270.6 371.9 L234.9 380.7 L204.4 396.7 L182.7 411.2 L157.1 423.4 L137.2 440.9 L109.2 451.8 L92.3 472.9 L77.2 486.7 L52.1 506.8 L33.0 514.3 L15.0 516.6 L5.6 531.0 L-8.3 542.2 L-16.2 555.0"/>
<path d="M623.5 352.1 L624.4 356.5 L621.2 364.7 L618.2 359.0 L612.7 354.7 L607.8 351.1 L601.4 346.1 L589.6 343.8 L586.6 341.1 L569.8 343.2 L555.7 344.2 L543.8 344.0 L533.3 346.5 L514.6 347.2 L491.3 345.6 L470.3 347.5 L452.2 348.4 L421.7 354.2 L397.7 359.8 L373.9 362.7 L337.2 365.7 L307.8 378.8 L273.4 386.3 L243.5 395.5 L229.3 403.2 L208.9 413.3 L193.7 427.0 L177.6 440.0 L168.1 453.0 L159.4 459.2 L148.2 467.1 L141.2 485.7"/>
<path d="M623.8 348.4 L624.4 355.4 L627.4 366.3 L621.8 360.3 L615.6 354.4 L608.9 349.1 L602.8 345.4 L597.7 340.7 L587.0 339.4 L575.5 338.4 L562.6 338.5 L549.3 337.9 L536.2 337.2 L515.7 337.4 L494.9 336.6 L471.0 335.1 L453.5 333.3 L424.1 338.3 L389.8 338.0 L359.6 344.4 L325.5 347.0 L301.3 362.1 L277.2 374.6 L250.8 388.9 L229.5 398.0 L212.2 405.6 L197.5 416.8 L179.4 426.8 L153.3 430.3 L157.9 441.4 L153.3 456.1"/>
<path d="M623.3 352.5 L616.8 357.5 L619.9 370.1 L615.7 366.2 L617.5 363.0 L604.2 357.5 L597.6 347.8 L594.6 352.9 L576.6 346.8 L564.4 345.6 L550.8 347.1 L536.2 347.9 L526.6 352.8 L502.8 354.0 L475.9 352.2 L452.9 350.6 L429.7 354.6 L397.4 360.6 L371.5 365.5 L346.6 372.1 L312.9 373.7 L283.5 384.7 L253.5 398.2 L229.6 407.8 L200.5 418.5 L177.2 422.1 L156.8 435.3 L142.0 448.2 L127.8 452.5 L123.0 460.4 L121.8 478.3"/>
<path d="M626.6 353.0 L621.8 359.6 L614.9 373.8 L612.5 365.5 L610.1 364.5 L604.5 358.6 L599.9 353.9 L595.3 358.2 L578.0 350.7 L565.3 350.9 L549.1 350.6 L533.3 348.9 L513.4 347.2 L488.3 342.2 L462.0 341.5 L438.0 339.6 L418.6 341.2 L388.2 348.4 L360.3 357.7 L332.6 365.8 L313.9 373.4 L291.6 385.1 L262.2 402.5 L242.3 414.0 L216.7 422.8 L199.5 433.9 L183.1 443.6 L161.7 454.8 L141.8 470.4 L128.1 484.8 L115.4 497.4 L104.0 509.1 L112.5 527.9"/>
<path d="M624.8 351.6 L628.1 361.1 L626.6 372.1 L621.6 366.3 L618.5 360.4 L611.0 360.0 L608.9 350.2 L598.7 348.8 L590.2 344.0 L578.7 347.1 L567.0 350.8 L552.6 349.4 L540.7 349.4 L521.0 350.2 L500.8 349.6 L480.6 352.6 L465.9 356.5 L434.2 357.0 L401.7 360.5 L370.4 362.8 L337.4 363.6 L311.2 375.6 L282.7 383.6 L249.9 386.2 L221.7 392.7 L209.4 405.4"/>
<path d="M622.8 350.7 L611.6 353.5 L610.2 360.8 L602.9 351.2 L598.7 347.4 L592.8 342.6 L584.9 338.4 L573.1 330.5 L561.3 328.1 L540.6 323.9 L518.9 319.0 L497.1 312.9 L477.9 308.7 L453.0 313.9 L422.1 309.5 L400.4 311.9 L378.9 311.9 L343.2 320.7 L315.4 332.3 L286.3 345.0 L255.4 358.4 L230.6 369.9 L208.6 382.5 L182.2 393.8 L150.0 409.1 L124.5 418.0 L102.8 424.2 L84.3 428.9 L63.3 433.2 L54.3 440.6 L49.1 452.4"/>
<path d="M624.4 350.0 L622.1 358.0 L615.1 366.3 L614.0 362.2 L613.4 353.8 L599.2 349.7 L594.9 350.5 L585.1 343.6 L573.6 342.4 L560.0 340.6 L543.8 340.7 L528.1 341.9 L516.4 344.5 L492.9 342.6 L470.0 344.6 L453.0 346.9 L431.5 350.7 L408.4 361.6 L379.0 363.3 L346.3 364.4 L312.5 366.0 L278.7 373.5 L252.0 386.8 L223.3 400.2 L201.6 408.2 L183.3 415.8 L160.6 426.6 L140.7 442.9 L132.6 459.2 L123.0 471.9"/>
<path d="M623.1 351.6 L620.0 364.5 L614.8 367.7 L615.1 365.2 L611.2 359.0 L606.7 352.4 L600.3 350.0 L587.5 347.8 L573.6 347.0 L557.7 344.1 L544.6 345.3 L531.8 344.7 L520.1 345.9 L495.4 349.6 L471.4 350.0 L446.5 351.4 L425.9 357.0 L392.5 365.6 L359.2 369.3 L333.5 377.1 L306.1 384.3 L282.0 393.2 L260.6 409.0 L236.4 422.3 L213.5 431.1 L203.4 447.2 L189.0 468.2 L172.1 480.3 L156.2 496.8 L142.9 514.7 L131.3 517.9 L126.6 525.3"/>
<path d="M622.0 351.5 L627.1 364.7 L623.3 375.4 L622.5 371.5 L615.0 364.3 L613.4 359.1 L607.7 357.3 L599.4 357.2 L587.8 355.6 L579.5 356.0 L568.4 357.2 L559.6 361.8 L550.8 366.6 L528.2 367.0 L509.0 368.5 L490.3 374.6 L478.0 381.8 L452.2 389.3 L424.5 389.9 L397.0 388.7 L365.4 390.2 L337.9 401.2 L310.7 411.5 L283.5 419.2 L256.2 427.0 L240.4 442.7 L225.3 457.1 L204.1 469.5 L194.8 487.2 L194.0 513.1 L185.9 536.1"/>
<path d="M626.0 348.9 L621.2 373.1 L610.5 380.3 L605.1 375.5 L606.2 367.9 L598.1 367.0 L593.2 365.5 L585.7 363.6 L575.8 366.4 L559.9 364.1 L545.1 365.6 L529.1 369.4 L518.1 374.6 L495.5 376.4 L467.2 376.3 L448.0 385.9 L423.2 390.4 L399.0 401.0 L371.4 408.5 L342.6 420.4 L313.1 424.3 L291.7 439.2 L260.6 447.0 L234.0 458.0 L211.2 474.7 L192.8 492.9 L170.8 513.1 L159.8 532.0 L135.4 556.2 L127.2 573.7"/>
<path d="M624.6 348.9 L627.7 350.3 L627.8 358.4 L618.2 351.6 L617.4 343.0 L610.3 347.3 L606.8 342.6 L595.7 338.6 L589.2 331.5 L574.1 330.6 L559.5 329.0 L545.6 326.9 L527.0 321.2 L502.3 316.3 L483.1 320.7 L461.7 316.6 L441.6 315.5 L413.7 317.8 L384.9 326.2 L349.6 325.0 L315.2 328.8 L279.8 333.9 L252.0 340.3 L228.6 345.1 L194.8 350.1 L183.0 356.7 L163.6 363.9 L147.0 367.9 L130.4 375.6 L145.7 387.7 L146.9 400.0 L141.9 417.7 L144.4 435.7"/>
<path d="M625.1 351.2 L623.6 357.1 L619.4 364.7 L617.6 357.1 L611.8 354.7 L601.4 352.3 L601.8 346.8 L589.2 345.2 L585.0 340.4 L567.8 341.2 L554.6 343.3 L538.1 339.3 L526.1 340.4 L504.4 341.8 L479.2 337.0 L457.6 336.0 L436.9 336.6 L411.2 348.0 L380.1 351.1 L354.6 354.7 L324.5 359.0 L304.3 370.1 L277.7 380.5 L251.4 392.0 L218.1 399.8 L195.8 408.5 L179.5 417.1 L161.4 432.1 L143.4 437.0"/>
<path d="M623.5 351.4 L621.7 358.5 L619.8 363.7 L612.6 364.3 L608.4 353.1 L603.8 351.9 L596.9 347.6 L588.9 343.4 L580.0 340.5 L567.3 338.4 L553.8 339.6 L540.6 338.5 L523.0 338.4 L504.7 342.9 L479.1 342.5 L456.0 345.2 L432.0 344.6 L401.1 350.5 L368.7 355.9 L339.2 358.9 L311.8 365.9 L277.4 372.0 L251.6 383.0 L234.2 394.2 L208.4 399.3 L185.9 406.4"/>
<path d="M624.7 353.3 L622.0 359.6 L618.0 370.0 L617.9 362.2 L611.8 361.4 L610.9 354.4 L606.3 354.8 L592.2 344.3 L588.7 345.4 L574.8 346.3 L558.5 344.9 L546.1 345.8 L530.1 343.1 L510.0 342.1 L479.9 335.9 L459.9 335.3 L437.0 336.5 L403.0 341.0 L373.3 350.7 L338.7 358.0 L305.5 359.0 L278.2 370.4 L251.3 381.0 L224.7 396.9 L196.7 401.0 L179.6 418.3 L161.6 430.8 L143.0 443.5 L129.3 453.9 L125.4 471.3 L115.4 479.1 L120.0 492.2 L118.2 501.8"/>
<path d="M627.0 351.1 L632.3 362.3 L633.7 379.9 L626.7 370.8 L625.7 368.6 L620.6 359.9 L617.8 351.7 L609.0 358.3 L605.6 357.3 L595.0 361.9 L585.9 365.7 L573.7 366.6 L561.9 368.6 L542.6 366.4 L520.3 365.2 L502.1 368.1 L480.2 369.0 L451.9 370.9 L428.3 376.2 L393.7 376.5 L367.2 379.0 L348.0 387.0 L325.2 394.9 L311.5 400.0 L285.1 406.6 L276.7 418.2 L258.7 433.3 L242.7 445.2 L228.5 458.2 L218.8 474.2 L214.9 495.6"/>
<path d="M627.9 350.7 L626.9 368.2 L625.0 375.9 L619.0 377.6 L615.1 370.1 L613.6 368.8 L609.4 361.5 L601.9 357.9 L596.1 362.8 L587.2 367.1 L575.6 372.7 L563.9 375.9 L553.0 380.9 L534.2 383.1 L512.6 386.6 L487.5 383.0 L465.6 384.8 L443.9 397.8 L425.1 406.4 L396.4 413.4 L366.2 413.8 L331.9 422.3 L305.0 426.3 L281.1 433.6 L254.7 442.3 L237.8 462.0 L226.2 471.9 L215.2 487.7 L199.0 503.9 L199.2 520.3"/>
<path d="M626.2 348.5 L629.2 355.7 L629.5 365.3 L623.2 356.1 L620.9 359.0 L612.4 350.5 L604.8 340.6 L598.0 346.0 L589.2 338.4 L574.0 337.9 L561.9 337.1 L549.5 336.8 L536.6 339.1 L515.2 336.3 L495.3 342.0 L473.5 339.1 L448.9 335.9 L420.2 339.9 L394.4 344.4 L363.8 344.7 L337.8 353.4 L316.1 361.4 L293.1 371.3 L267.0 380.6 L237.1 386.6 L214.8 392.2 L199.3 397.4 L183.0 411.1"/>
<path d="M626.4 351.0 L623.5 349.9 L622.3 362.4 L622.2 356.5 L611.0 351.9 L605.4 347.0 L596.4 338.6 L582.7 336.6 L573.7 335.3 L559.2 326.6 L543.4 328.8 L531.7 329.4 L516.5 326.4 L496.6 325.5 L473.8 325.2 L450.7 325.7 L425.6 321.0 L392.3 325.7 L357.9 328.9 L330.1 337.5 L300.1 342.1 L275.7 352.7 L248.6 358.1 L213.0 364.5 L184.2 376.1 L173.4 386.9 L158.9 397.0 L150.4 410.3 L135.5 419.0 L136.7 427.8 L131.9 434.7"/>
<path d="M625.7 347.0 L610.7 359.6 L601.5 365.8 L601.5 358.6 L595.8 354.2 L587.2 352.0 L582.1 350.1 L571.5 346.3 L561.7 346.8 L544.8 344.5 L523.8 343.5 L505.2 342.9 L488.6 343.4 L462.8 347.0 L435.2 350.2 L411.7 353.7 L389.2 359.3 L361.5 371.8 L327.7 382.2 L298.4 389.6 L271.6 401.9 L244.8 416.4 L219.1 436.0 L194.1 447.0 L165.9 462.1 L144.9 475.3 L126.8 493.9 L104.6 509.6 L81.1 521.3 L66.4 528.5 L53.5 541.4 L35.9 551.8"/>
<path d="M622.3 350.0 L621.8 351.9 L629.5 366.8 L618.9 359.5 L618.5 353.3 L607.7 347.7 L608.1 346.0 L591.9 341.9 L586.8 337.6 L570.3 334.0 L556.8 333.7 L543.3 333.7 L526.8 329.9 L500.0 327.7 L476.3 329.5 L456.6 331.0 L437.5 336.4 L411.4 338.7 L380.7 345.0 L351.7 348.6 L317.0 350.6 L290.0 358.4 L264.2 365.1 L235.5 376.0 L201.7 384.1 L186.9 396.2 L178.4 404.7 L161.1 410.6"/>
<path d="M625.5 351.3 L619.6 364.3 L616.3 370.1 L608.0 366.8 L609.9 363.5 L604.2 360.3 L591.1 352.2 L577.2 352.6 L565.8 352.2 L553.0 354.7 L537.1 355.6 L520.4 357.2 L507.6 359.8 L487.6 360.9 L465.9 361.5 L440.9 363.3 L424.4 370.4 L394.6 375.9 L367.7 383.7 L339.9 394.8 L313.2 401.3 L289.8 412.0 L254.9 422.8 L235.4 440.0 L210.0 441.5 L187.4 456.6 L165.5 474.5 L142.3 488.8 L124.5 503.8 L105.7 515.5 L96.6 528.7 L79.5 536.7 L63.0 548.0"/>
<path d="M627.1 351.0 L627.4 363.3 L622.7 368.7 L616.7 370.0 L615.8 362.0 L608.2 361.6 L597.6 354.0 L594.2 360.0 L587.6 357.0 L573.5 357.7 L563.0 360.1 L548.5 361.5 L537.4 363.8 L515.7 362.7 L497.5 368.1 L476.3 368.6 L454.8 367.9 L422.9 370.6 L395.0 376.3 L364.3 381.5 L343.3 385.0 L317.1 391.7 L292.0 397.8 L269.5 408.3 L243.4 419.4 L232.9 433.1 L220.9 448.7 L204.4 461.7 L185.5 471.7"/>
<path d="M624.0 352.1 L617.7 362.5 L615.9 376.0 L613.4 365.9 L611.0 364.9 L607.2 359.1 L598.0 358.9 L593.5 357.3 L583.3 355.0 L571.6 357.6 L556.2 357.7 L543.4 359.8 L528.1 362.1 L506.4 364.3 L487.0 367.3 L459.8 367.6 L430.5 364.4 L400.9 370.4 L376.4 381.4 L347.4 386.2 L319.3 391.8 L292.5 409.0 L261.9 420.4 L237.1 432.7 L212.1 440.5 L194.4 458.1 L182.8 472.6 L163.2 486.2 L138.7 505.5"/>
<path d="M626.3 353.2 L623.2 362.3 L619.4 368.5 L615.9 367.4 L609.1 359.1 L607.2 350.7 L599.3 348.1 L595.7 348.5 L582.6 343.0 L570.1 349.9 L556.3 350.0 L543.3 352.0 L528.8 351.6 L508.1 352.8 L485.7 352.4 L464.1 350.8 L438.9 350.0 L411.9 357.4 L372.0 352.8 L342.5 363.4 L318.1 371.6 L290.7 380.6 L270.8 394.2 L239.6 405.3 L218.0 411.1 L197.7 425.3 L186.2 434.8 L168.3 449.9"/>
<path d="M625.2 354.0 L626.3 362.4 L629.2 369.6 L624.9 361.9 L622.8 358.6 L611.5 355.0 L607.3 351.8 L598.2 345.3 L592.1 345.5 L579.1 344.1 L567.6 346.5 L553.5 344.9 L540.4 346.5 L522.8 349.7 L500.7 346.0 L480.2 344.6 L459.9 347.4 L429.4 347.4 L403.3 353.9 L372.6 356.5 L337.3 355.6 L311.2 361.7 L293.2 380.0 L263.0 383.6 L245.6 397.1 L243.9 410.9 L226.1 419.7 L217.5 429.5"/>
<path d="M627.3 348.9 L619.2 367.9 L615.4 373.2 L609.2 372.5 L603.8 365.8 L597.8 362.0 L593.4 356.4 L583.2 357.0 L575.7 357.6 L561.8 359.7 L549.7 364.4 L534.5 366.4 L516.7 368.5 L496.8 369.9 L472.6 369.4 L448.8 371.3 L428.6 377.4 L402.9 384.4 L376.8 395.6 L342.4 397.3 L314.0 402.4 L292.1 417.1 L268.1 426.1 L235.5 432.9 L208.1 442.0 L183.6 450.6 L164.9 466.5 L146.3 480.5 L129.5 495.8 L127.3 512.8 L120.6 526.3"/>
<path d="M625.8 351.1 L629.3 367.9 L619.2 377.8 L616.1 376.3 L615.4 369.8 L605.4 366.6 L605.6 362.8 L599.2 362.5 L592.8 364.0 L582.2 368.3 L571.4 372.5 L563.3 378.3 L551.3 383.1 L531.8 386.8 L511.6 389.9 L490.9 394.3 L474.0 396.6 L442.2 400.0 L419.2 407.5 L388.0 412.3 L362.8 418.2 L334.3 422.8 L304.2 429.0 L282.2 437.1 L251.3 443.1 L235.4 454.9 L221.7 474.5 L208.6 492.1 L188.0 508.0 L179.4 528.3 L163.4 546.8"/>
<path d="M622.3 352.8 L611.7 363.4 L610.8 362.0 L608.4 361.7 L606.3 356.1 L596.1 351.7 L588.3 349.0 L579.1 347.9 L560.8 345.2 L546.8 348.5 L530.1 349.4 L513.7 350.1 L496.5 356.2 L472.6 359.5 L446.2 361.4 L422.7 362.8 L398.6 361.7 L368.1 366.8 L332.1 375.1 L303.5 386.2 L277.8 392.7 L252.4 404.2 L223.1 416.0 L197.9 430.1 L173.0 443.0 L152.6 460.6"/>
<path d="M625.6 350.8 L618.9 365.6 L613.3 378.5 L610.6 370.7 L614.1 371.5 L602.8 362.8 L601.5 361.2 L596.5 364.6 L578.9 360.8 L567.1 359.7 L550.1 358.3 L538.7 361.7 L524.5 363.2 L505.1 365.2 L484.0 368.4 L460.7 367.8 L442.2 375.0 L415.9 381.7 L387.6 385.6 L353.4 388.1 L324.4 392.1 L294.1 403.1 L268.8 411.4 L253.7 422.4 L229.7 432.0 L216.2 448.9 L204.2 466.0 L181.9 485.8 L164.8 500.9"/>
<path d="M626.2 352.3 L621.1 355.8 L626.3 367.1 L618.5 364.9 L616.6 352.9 L610.4 352.5 L602.7 344.7 L591.8 341.1 L580.1 331.8 L570.8 335.7 L556.1 333.4 L541.2 332.5 L529.0 332.3 L510.4 334.6 L485.1 334.4 L460.1 328.8 L443.5 333.1 L413.6 335.1 L382.4 338.2 L353.9 338.8 L324.1 340.6 L296.4 349.6 L267.4 354.4 L241.2 363.0 L213.6 375.3 L205.9 384.6 L180.8 391.5 L164.7 397.5 L146.8 407.8 L137.7 421.0 L139.6 435.3 L143.3 451.4"/>
<path d="M623.4 349.8 L614.0 353.4 L612.1 360.1 L607.6 357.4 L602.3 353.3 L593.5 346.5 L590.6 345.3 L580.9 341.3 L570.6 335.5 L548.4 336.2 L529.8 333.5 L511.1 332.5 L494.0 330.0 L468.9 330.0 L444.2 326.0 L420.7 325.3 L399.1 326.3 L366.0 332.7 L335.6 342.9 L307.2 347.3 L276.2 354.8 L247.7 368.1 L218.2 382.6 L188.8 398.1 L159.2 403.0 L134.1 420.8 L114.6 430.6 L98.1 439.9 L80.9 451.2"/>
<path d="M627.0 350.9 L628.6 367.1 L625.6 381.0 L621.8 376.9 L618.3 368.7 L614.5 363.9 L603.6 355.1 L603.9 356.3 L598.5 358.4 L585.0 360.7 L574.3 364.8 L562.7 368.2 L549.8 368.8 L531.3 371.4 L514.1 377.0 L493.6 376.2 L474.6 377.0 L446.8 378.4 L421.3 384.4 L393.5 390.1 L357.0 389.4 L330.5 398.9 L307.2 409.3 L288.9 414.4 L257.7 424.1 L250.5 436.6 L240.2 454.0 L219.3 463.1 L206.5 476.6 L208.7 503.4 L207.2 524.3 L193.9 539.9 L188.0 573.8 L180.1 596.3 L158.8 614.1"/>
<path d="M625.9 353.0 L611.6 357.8 L607.5 360.9 L610.0 359.0 L602.4 354.7 L593.3 350.7 L581.5 343.5 L571.5 340.5 L562.1 335.1 L545.2 336.8 L526.2 332.4 L509.7 331.9 L490.8 329.6 L467.6 333.9 L444.9 335.4 L417.8 334.2 L398.0 336.2 L365.4 345.6 L333.7 356.0 L298.6 368.1 L265.2 374.9 L240.2 390.2 L209.8 403.3 L188.6 418.8 L159.0 433.8 L147.7 448.0 L123.4 462.3 L114.9 475.0 L97.1 485.3"/>
<path d="M623.0 351.1 L608.8 363.6 L607.6 368.8 L606.1 361.7 L597.8 358.3 L595.0 355.1 L590.4 349.7 L576.3 351.5 L565.9 349.3 L547.8 350.1 L531.6 353.1 L517.1 355.7 L497.1 358.6 L476.3 360.9 L452.9 364.4 L427.3 364.7 L400.5 363.5 L368.2 368.4 L336.9 375.1 L307.6 387.7 L277.1 395.9 L252.2 411.3 L235.3 422.7 L199.1 431.2 L173.8 448.9 L150.9 464.3 L128.3 481.4 L119.4 492.6 L107.6 515.9"/>
<path d="M625.5 350.6 L618.7 358.5 L615.3 368.2 L612.9 366.6 L607.9 359.0 L600.5 355.8 L595.6 351.2 L588.6 352.2 L579.0 349.0 L562.8 347.3 L548.2 347.6 L534.2 349.5 L517.0 352.6 L497.5 355.2 L473.8 357.4 L449.0 359.4 L427.3 362.0 L396.9 369.2 L364.6 371.7 L330.8 379.0 L300.8 384.1 L274.6 394.2 L240.8 402.6 L211.5 413.2 L182.4 427.0 L164.3 442.6 L147.1 450.5 L133.1 460.9 L110.3 479.7 L103.0 497.7 L93.9 504.8 L79.4 523.7 L69.7 536.8 L81.3 547.4 L82.6 568.4"/>
<path d="M623.5 349.8 L618.0 358.2 L613.4 375.6 L610.8 366.2 L611.0 360.6 L605.8 351.3 L606.2 353.2 L586.6 346.9 L582.2 347.1 L564.0 349.3 L549.3 348.8 L535.2 349.4 L525.5 350.6 L504.5 353.3 L486.6 357.1 L463.5 357.4 L440.6 356.3 L409.8 359.4 L377.6 362.0 L346.4 365.3 L311.4 371.1 L286.8 382.9 L256.1 393.8 L229.7 404.5 L204.8 415.5 L193.6 426.9 L174.0 439.0 L156.2 453.2 L142.9 472.2 L140.4 488.5 L132.0 502.2 L130.4 520.5 L120.0 529.3"/>
<path d="M625.1 351.1 L630.1 361.1 L630.8 369.4 L628.1 367.4 L625.6 362.0 L620.9 360.2 L618.1 359.5 L603.5 348.4 L601.9 350.4 L587.9 352.5 L578.7 355.6 L570.5 362.0 L555.7 360.2 L535.6 363.3 L512.9 361.6 L490.3 362.3 L465.6 363.1 L434.4 364.0 L402.5 364.1 L373.8 369.3 L348.4 372.8 L318.1 379.7 L288.0 386.5 L260.6 397.3 L235.7 399.4 L223.9 405.6 L206.1 424.8 L195.8 432.8 L185.1 448.4 L179.7 467.2 L170.4 477.3"/>
<path d="M625.8 350.2 L619.6 359.6 L622.1 368.1 L611.3 361.3 L607.0 358.0 L603.3 353.8 L595.2 344.9 L588.9 346.1 L579.6 341.4 L563.7 344.8 L549.8 347.1 L535.0 346.8 L524.3 351.3 L501.7 353.4 L477.4 351.8 L456.5 353.4 L438.2 358.1 L412.0 363.7 L381.9 368.3 L353.1 375.0 L322.4 380.8 L303.0 393.8 L271.6 404.3 L250.1 415.8 L227.8 420.3 L211.7 432.1 L203.0 447.6 L192.9 461.3 L172.7 470.5 L157.2 482.5 L156.0 495.5 L143.9 516.4 L133.6 534.9 L129.8 556.4"/>
<path d="M623.1 349.7 L603.6 356.8 L599.9 357.7 L595.9 359.1 L592.3 349.9 L584.4 348.3 L579.2 349.0 L563.6 342.3 L550.9 342.6 L533.2 339.8 L514.1 337.5 L494.4 335.7 L476.9 335.7 L446.9 334.0 L421.4 333.8 L397.6 335.7 L370.5 337.4 L334.3 344.8 L306.1 356.0 L266.9 361.8 L233.1 379.6 L199.3 387.4 L174.6 405.6 L147.2 425.1 L116.9 441.7 L94.1 458.5 L75.5 471.0 L57.1 483.7"/>
<path d="M134.0 368.0 L170.0 356.0 L232.0 340.0 L300.0 325.0 L380.0 318.0 L460.0 318.0 L530.0 326.0 L590.0 340.0 L620.0 350.0"/>
<path d="M120.0 393.0 L140.0 389.0 L186.0 374.0 L240.0 352.0 L280.0 340.0 L340.0 330.0 L420.0 325.0 L500.0 328.0 L560.0 335.0 L610.0 347.0"/>
<path d="M120.0 402.0 L150.0 394.0 L180.0 380.0 L224.0 362.0 L260.0 348.0 L320.0 338.0 L400.0 332.0 L480.0 332.0 L550.0 337.0 L600.0 345.0"/>
<path d="M134.0 401.0 L136.0 384.0 L170.0 366.0 L200.0 355.0 L250.0 343.0 L320.0 334.0 L400.0 328.0 L480.0 328.0 L560.0 334.0"/>
<path d="M622.0 354.0 L610.0 366.0 L600.0 372.0 L580.0 380.0 L560.0 384.0 L530.0 390.0 L500.0 394.0 L460.0 402.0 L420.0 408.0 L380.0 416.0 L340.0 428.0 L300.0 446.0 L270.0 470.0 L255.0 500.0"/>
<path d="M622.0 355.0 L608.0 369.0 L598.0 376.0 L570.0 394.0 L544.0 398.0 L520.0 404.0 L480.0 410.0 L440.0 418.0 L400.0 421.0 L360.0 426.0 L320.0 436.0 L285.0 452.0 L262.0 474.0"/>
<path d="M621.0 356.0 L606.0 371.0 L596.0 378.0 L582.0 392.0 L568.0 402.0 L536.0 408.0 L500.0 412.0 L460.0 414.0 L420.0 416.0 L380.0 420.0 L340.0 432.0 L300.0 450.0"/>
<path d="M620.0 357.0 L604.0 373.0 L592.0 384.0 L575.0 392.0 L550.0 393.0 L520.0 396.0 L480.0 400.0 L440.0 406.0 L400.0 412.0 L360.0 420.0 L320.0 430.0 L280.0 446.0 L250.0 468.0 L235.0 495.0"/>
<path d="M7.0 367.0 L18.0 364.0 L40.0 348.0 L70.0 328.0 L98.0 314.0 L126.0 305.6 L150.0 305.6 L176.0 299.0 L204.0 294.0 L232.0 292.0 L251.0 301.0 L304.0 283.6 L335.0 299.0 L364.0 292.4 L396.0 295.0 L426.0 294.4 L450.0 301.0 L470.0 299.0 L500.0 305.0 L530.0 318.0 L560.0 330.0 L590.0 342.0 L610.0 348.0 L622.0 350.0"/>
<path d="M30.0 398.0 L42.0 389.0 L60.0 382.0 L84.0 378.0 L107.0 369.0 L133.0 369.0 L160.0 351.6 L200.0 334.0 L240.0 319.0 L246.0 317.0 L304.0 305.6 L330.0 313.0 L370.0 312.0 L420.0 310.0 L470.0 308.0 L520.0 318.0 L560.0 330.0 L595.0 343.0 L618.0 350.0"/>
<path d="M7.0 410.0 L20.0 408.0 L60.0 401.0 L115.0 391.0 L128.0 393.0 L170.0 380.0 L230.0 355.0 L300.0 335.0 L380.0 325.0 L460.0 320.0 L530.0 328.0 L580.0 340.0 L620.0 351.0"/>
<path d="M293.0 436.7 L317.5 441.2 L363.0 436.0 L405.0 425.5 L450.5 430.8 L520.5 425.5 L562.5 418.5 L580.0 404.5 L600.0 390.0 L615.0 372.0 L622.0 356.0"/>
<path d="M247.5 520.0 L258.0 495.5 L289.5 467.5 L335.0 446.5 L380.5 425.5 L440.0 418.5 L510.0 419.2 L571.2 411.5 L597.5 387.0 L612.0 372.0 L621.0 355.0"/>
<path d="M230.0 481.5 L275.5 458.8 L328.0 436.0 L387.5 418.5 L475.0 415.0 L527.5 406.2 L545.0 395.8 L580.0 380.0 L605.0 368.0 L620.0 354.0"/>
<path d="M625.0 351.0 L621.0 341.0 L611.7 326.9 L600.0 329.3 L592.0 335.0 L580.0 338.0 L560.0 337.0"/>
<path d="M625.0 351.0 L634.0 347.0 L642.0 342.6 L644.0 346.4 L646.0 345.0"/>
<path d="M644.0 346.4 L638.0 353.0 L632.0 362.0 L622.0 366.0"/>
<path d="M624.0 352.0 L636.4 360.7 L650.7 371.2 L641.2 377.9 L634.5 381.7 L628.0 372.0 L620.0 368.0 L610.0 362.0 L596.0 352.0"/>
<path d="M622.0 370.0 L621.2 385.5 L615.0 380.0 L608.0 372.0 L600.0 360.0"/>
<path d="M626.0 368.0 L629.8 386.4 L635.5 383.6 L630.0 372.0"/>
<path d="M18.0 450.5 L21.0 430.5 L38.0 418.0 L66.7 406.7 L104.8 398.0 L135.0 390.0 L180.0 376.0 L230.0 360.0"/>
<path d="M54.3 439.0 L76.0 429.5 L104.8 416.0 L130.0 403.0 L170.0 390.0 L220.0 372.0"/>
<path d="M84.8 425.7 L106.7 418.0 L135.0 408.0 L175.0 394.0"/>
<path d="M175.0 400.0 L130.0 418.0 L95.0 432.0 L62.9 445.7 L53.3 460.0 L50.5 475.0 L57.0 492.4 L72.4 509.5 L91.4 524.8 L106.7 540.0 L125.0 560.0"/>
<path d="M170.0 412.0 L130.0 427.0 L83.8 442.9 L66.7 460.0 L59.0 473.3 L61.0 481.0 L67.6 487.6"/>
<path d="M7.0 516.0 L20.0 506.7 L38.0 492.4 L62.9 482.0 L68.6 474.3 L95.2 474.3 L120.0 470.0"/>
<path d="M120.0 440.0 L83.8 463.8 L85.7 494.3 L93.3 505.7 L110.0 522.0"/>
<path d="M100.0 470.0 L66.0 510.0 L67.5 552.0 L84.0 588.0 L111.0 621.0 L132.0 648.0 L172.5 699.0 L218.6 752.5 L243.0 772.0 L260.7 786.4"/>
<path d="M110.0 480.0 L81.0 534.0 L76.5 559.5 L90.0 589.5 L117.0 630.0 L144.0 663.0 L189.0 699.0 L246.4 743.6"/>
<path d="M125.0 470.0 L102.0 525.0 L103.5 552.0 L100.5 603.0 L112.5 619.5 L148.5 640.5"/>
<path d="M15.0 523.5 L28.5 540.0"/>
<path d="M6.6 573.0 L21.0 594.0"/>
<path d="M130.0 480.0 L123.0 522.0 L129.0 540.0 L163.5 550.5 L210.0 559.5"/>
<path d="M85.0 480.0 L93.0 507.0 L112.5 543.0 L150.0 557.4"/>
<path d="M40.0 470.0 L60.0 489.0 L93.0 519.0 L141.0 558.0 L192.0 585.0 L256.5 612.0"/>
<path d="M140.0 470.0 L144.0 501.0 L168.0 570.0 L180.0 592.5 L207.0 612.0 L232.5 632.0"/>
<path d="M160.0 470.0 L171.0 529.5"/>
<path d="M175.0 460.0 L180.0 489.0 L192.0 549.0 L213.0 594.0 L252.0 657.0 L286.5 699.0 L303.6 720.4"/>
<path d="M180.0 470.0 L186.0 510.0 L210.0 570.0 L240.0 606.0 L294.0 675.0"/>
<path d="M195.0 455.0 L204.0 492.0 L225.0 537.0 L261.0 561.0 L289.5 564.0"/>
<path d="M200.0 480.0 L210.0 510.0 L237.0 546.0 L300.0 557.4"/>
<path d="M256.5 540.0 L264.0 558.0 L282.0 606.0 L297.0 636.0"/>
<path d="M300.0 455.0 L279.0 480.0 L261.0 498.0 L256.5 540.0 L271.5 549.0"/>
<path d="M235.0 460.0 L243.0 489.0 L267.0 528.0"/>
<path d="M190.0 480.0 L210.0 513.0 L270.0 564.0 L324.0 615.0 L360.0 645.0 L420.0 700.0 L470.0 748.0"/>
<path d="M171.0 510.0 L240.0 480.0"/>
<path d="M168.0 513.0 L192.0 517.5 L225.0 502.5"/>
</g>
<g fill="none" stroke="#15b01a" stroke-width="0.75" stroke-opacity="0.55">
<path d="M614.0 349.0 L604.5 345.0 L590.0 339.0 L564.0 335.6 L538.0 335.6 L503.0 336.4 L452.0 338.6 L420.0 340.6 L386.7 343.3 L360.0 347.6 L344.7 350.5 L320.0 357.5 L300.0 363.0 L280.0 369.6 L240.0 383.0 L210.0 396.0 L180.0 413.5 L164.0 423.0 L151.4 429.6 L126.4 441.2"/>
<path d="M614.0 349.8 L604.5 346.2 L590.0 340.6 L564.0 336.6 L538.0 336.8 L503.0 337.8 L452.0 340.4 L420.0 343.2 L386.7 346.5 L360.0 351.0 L344.7 354.0 L320.0 360.0 L300.0 364.8 L280.0 370.4 L240.0 383.8 L210.0 396.8 L180.0 414.3 L169.3 426.0 L164.0 434.0"/>
</g>
<g transform="rotate(18 149.6 457.1)" fill="none"><ellipse cx="149.6" cy="457.1" rx="58" ry="42.2" stroke="#000" stroke-width="6.9"/><ellipse cx="149.6" cy="457.1" rx="58" ry="42.2" stroke="#0343df" stroke-width="4.8"/></g>
<g transform="translate(161.25 414.5) rotate(17)"><rect x="-8.79" y="-4.30" width="17.59" height="8.6" rx="1.8" fill="#fff"/><text x="-7.19" y="3.15" font-size="8.8" textLength="14.39" lengthAdjust="spacingAndGlyphs" fill="#000">168</text></g>
<g transform="translate(137.5 498.4) rotate(15)"><rect x="-8.79" y="-4.30" width="17.59" height="8.6" rx="1.8" fill="#fff"/><text x="-7.19" y="3.15" font-size="8.8" textLength="14.39" lengthAdjust="spacingAndGlyphs" fill="#000">168</text></g>
<g transform="rotate(15 216 410.9)" fill="none"><ellipse cx="216" cy="410.9" rx="47.5" ry="30.3" stroke="#000" stroke-width="6.9"/><ellipse cx="216" cy="410.9" rx="47.5" ry="30.3" stroke="#0343df" stroke-width="4.8"/></g>
<g transform="translate(222.3 380.2) rotate(20)"><rect x="-8.79" y="-4.30" width="17.59" height="8.6" rx="1.8" fill="#fff"/><text x="-7.19" y="3.15" font-size="8.8" textLength="14.39" lengthAdjust="spacingAndGlyphs" fill="#000">144</text></g>
<g transform="translate(208.9 441.25) rotate(20)"><rect x="-8.79" y="-4.30" width="17.59" height="8.6" rx="1.8" fill="#fff"/><text x="-7.19" y="3.15" font-size="8.8" textLength="14.39" lengthAdjust="spacingAndGlyphs" fill="#000">144</text></g>
<g transform="rotate(27 322.8 372)" fill="none"><ellipse cx="322.8" cy="372" rx="45.5" ry="24.2" stroke="#000" stroke-width="6.9"/><ellipse cx="322.8" cy="372" rx="45.5" ry="24.2" stroke="#0343df" stroke-width="4.8"/></g>
<g transform="translate(334.4 350.6) rotate(35)"><rect x="-8.79" y="-4.30" width="17.59" height="8.6" rx="1.8" fill="#fff"/><text x="-7.19" y="3.15" font-size="8.8" textLength="14.39" lengthAdjust="spacingAndGlyphs" fill="#000">120</text></g>
<g transform="translate(312.4 392) rotate(40)"><rect x="-8.79" y="-4.30" width="17.59" height="8.6" rx="1.8" fill="#fff"/><text x="-7.19" y="3.15" font-size="8.8" textLength="14.39" lengthAdjust="spacingAndGlyphs" fill="#000">120</text></g>
<g transform="rotate(39 440.7 351)" fill="none"><ellipse cx="440.7" cy="351" rx="42.5" ry="19.6" stroke="#000" stroke-width="6.9"/><ellipse cx="440.7" cy="351" rx="42.5" ry="19.6" stroke="#0343df" stroke-width="4.8"/></g>
<g transform="translate(454.6 336.2) rotate(47)"><rect x="-6.40" y="-4.30" width="12.79" height="8.6" rx="1.8" fill="#fff"/><text x="-4.80" y="3.15" font-size="8.8" textLength="9.59" lengthAdjust="spacingAndGlyphs" fill="#000">96</text></g>
<g transform="translate(429.4 366.4) rotate(48)"><rect x="-6.40" y="-4.30" width="12.79" height="8.6" rx="1.8" fill="#fff"/><text x="-4.80" y="3.15" font-size="8.8" textLength="9.59" lengthAdjust="spacingAndGlyphs" fill="#000">96</text></g>
<g transform="rotate(42 527.7 347.9)" fill="none"><ellipse cx="527.7" cy="347.9" rx="33.1" ry="14.65" stroke="#000" stroke-width="6.9"/><ellipse cx="527.7" cy="347.9" rx="33.1" ry="14.65" stroke="#0343df" stroke-width="4.8"/></g>
<g transform="translate(539 338.25) rotate(54)"><rect x="-6.40" y="-4.30" width="12.79" height="8.6" rx="1.8" fill="#fff"/><text x="-4.80" y="3.15" font-size="8.8" textLength="9.59" lengthAdjust="spacingAndGlyphs" fill="#000">72</text></g>
<g transform="rotate(44 582.5 346)" fill="none"><ellipse cx="582.5" cy="346" rx="17.8" ry="9.1" stroke="#000" stroke-width="6.9"/><ellipse cx="582.5" cy="346" rx="17.8" ry="9.1" stroke="#0343df" stroke-width="4.8"/></g>
<g transform="translate(592.3 337.8) rotate(55)"><rect x="-6.40" y="-4.30" width="12.79" height="8.6" rx="1.8" fill="#fff"/><text x="-4.80" y="3.15" font-size="8.8" textLength="9.59" lengthAdjust="spacingAndGlyphs" fill="#000">48</text></g>
<g transform="rotate(45 601 351)" fill="none"><ellipse cx="601" cy="351" rx="13" ry="6.5" stroke="#fff" stroke-width="6.9"/><ellipse cx="601" cy="351" rx="13" ry="6.5" stroke="#0343df" stroke-width="4.8"/></g>
<g transform="translate(610 343) rotate(55)"><rect x="-6.40" y="-4.30" width="12.79" height="8.6" rx="1.8" fill="#fff"/><text x="-4.80" y="3.15" font-size="8.8" textLength="9.59" lengthAdjust="spacingAndGlyphs" fill="#000">36</text></g>
<g transform="rotate(50 612.2 359.4)" fill="none"><ellipse cx="612.2" cy="359.4" rx="11.8" ry="6.6" stroke="#000" stroke-width="6.9"/><ellipse cx="612.2" cy="359.4" rx="11.8" ry="6.6" stroke="#0343df" stroke-width="4.8"/></g>
<g transform="translate(616.3 352.0) rotate(60)"><rect x="-6.40" y="-4.30" width="12.79" height="8.6" rx="1.8" fill="#fff"/><text x="-4.80" y="3.15" font-size="8.8" textLength="9.59" lengthAdjust="spacingAndGlyphs" fill="#000">24</text></g>
<g transform="rotate(63 620.1 368.3)" fill="none"><ellipse cx="620.1" cy="368.3" rx="10.5" ry="7.2" stroke="#fff" stroke-width="6.9"/><ellipse cx="620.1" cy="368.3" rx="10.5" ry="7.2" stroke="#0343df" stroke-width="4.8"/></g>
<g transform="translate(614.3 372) rotate(80)"><rect x="-6.40" y="-4.30" width="12.79" height="8.6" rx="1.8" fill="#fff"/><text x="-4.80" y="3.15" font-size="8.8" textLength="9.59" lengthAdjust="spacingAndGlyphs" fill="#000">12</text></g>
<g transform="rotate(20 625.2 350.5)" fill="none"><ellipse cx="625.2" cy="350.5" rx="6.5" ry="4.5" stroke="#000" stroke-width="6.9"/><ellipse cx="625.2" cy="350.5" rx="6.5" ry="4.5" stroke="#0343df" stroke-width="4.8"/></g>
<g transform="translate(629 348.5) rotate(-60)"><rect x="-4.00" y="-4.30" width="8.00" height="8.6" rx="1.8" fill="#fff"/><text x="-2.40" y="3.15" font-size="8.8" textLength="4.80" lengthAdjust="spacingAndGlyphs" fill="#000">0</text></g>
<text x="11.80" y="81.90" font-size="8.8" textLength="14.20" lengthAdjust="spacingAndGlyphs" transform="rotate(-22.5 11.80 81.90)" fill="#000">5°S</text>
<text x="11.80" y="136.73" font-size="8.8" textLength="22.20" lengthAdjust="spacingAndGlyphs" transform="rotate(-22.5 11.80 136.73)" fill="#000">7.5°S</text>
<text x="11.80" y="191.55" font-size="8.8" textLength="19.00" lengthAdjust="spacingAndGlyphs" transform="rotate(-22.5 11.80 191.55)" fill="#000">10°S</text>
<text x="11.80" y="246.38" font-size="8.8" textLength="27.40" lengthAdjust="spacingAndGlyphs" transform="rotate(-22.5 11.80 246.38)" fill="#000">12.5°S</text>
<text x="11.80" y="301.20" font-size="8.8" textLength="19.00" lengthAdjust="spacingAndGlyphs" transform="rotate(-22.5 11.80 301.20)" fill="#000">15°S</text>
<text x="11.80" y="356.03" font-size="8.8" textLength="27.40" lengthAdjust="spacingAndGlyphs" transform="rotate(-22.5 11.80 356.03)" fill="#000">17.5°S</text>
<text x="11.80" y="410.85" font-size="8.8" textLength="19.00" lengthAdjust="spacingAndGlyphs" transform="rotate(-22.5 11.80 410.85)" fill="#000">20°S</text>
<text x="11.80" y="465.68" font-size="8.8" textLength="27.40" lengthAdjust="spacingAndGlyphs" transform="rotate(-22.5 11.80 465.68)" fill="#000">22.5°S</text>
<text x="11.80" y="520.50" font-size="8.8" textLength="19.00" lengthAdjust="spacingAndGlyphs" transform="rotate(-22.5 11.80 520.50)" fill="#000">25°S</text>
<text x="11.80" y="575.32" font-size="8.8" textLength="27.40" lengthAdjust="spacingAndGlyphs" transform="rotate(-22.5 11.80 575.32)" fill="#000">27.5°S</text>
<text x="11.80" y="630.15" font-size="8.8" textLength="19.00" lengthAdjust="spacingAndGlyphs" transform="rotate(-22.5 11.80 630.15)" fill="#000">30°S</text>
<text x="11.80" y="684.97" font-size="8.8" textLength="27.40" lengthAdjust="spacingAndGlyphs" transform="rotate(-22.5 11.80 684.97)" fill="#000">32.5°S</text>
<text x="11.80" y="739.80" font-size="8.8" textLength="19.00" lengthAdjust="spacingAndGlyphs" transform="rotate(-22.5 11.80 739.80)" fill="#000">35°S</text>
<text x="123.60" y="782.70" font-size="8.8" textLength="19.80" lengthAdjust="spacingAndGlyphs" fill="#000">90°E</text>
<text x="233.20" y="782.70" font-size="8.8" textLength="19.80" lengthAdjust="spacingAndGlyphs" fill="#000">95°E</text>
<text x="340.15" y="782.70" font-size="8.8" textLength="25.10" lengthAdjust="spacingAndGlyphs" fill="#000">100°E</text>
<text x="449.75" y="782.70" font-size="8.8" textLength="25.10" lengthAdjust="spacingAndGlyphs" fill="#000">105°E</text>
<text x="559.35" y="782.70" font-size="8.8" textLength="25.10" lengthAdjust="spacingAndGlyphs" fill="#000">110°E</text>
<text x="668.95" y="782.70" font-size="8.8" textLength="25.10" lengthAdjust="spacingAndGlyphs" fill="#000">115°E</text>
<text x="9.60" y="787.90" font-size="5.4" textLength="34.40" lengthAdjust="spacingAndGlyphs" fill="#000">20240318 08:13</text>
<rect x="13" y="63" width="214" height="50.8" rx="2.6" fill="#fff" stroke="#cccccc" stroke-width="1.5"/>
<circle cx="37.4" cy="75.4" r="9.1" fill="#0343df"/><circle cx="37.4" cy="99" r="9.1" fill="#15b01a"/>
<text x="67.20" y="81.60" font-size="16.9" textLength="113.00" lengthAdjust="spacingAndGlyphs" fill="#000">ECMWF (00Z)</text>
<text x="67.20" y="105.00" font-size="16.9" textLength="153.40" lengthAdjust="spacingAndGlyphs" fill="#000">MOGREPS-G (00Z)</text>
</g>
<rect x="5" y="54" width="714" height="736" fill="none" stroke="#000" stroke-width="4"/>
<text x="268.80" y="17.00" font-size="14.5" textLength="186.60" lengthAdjust="spacingAndGlyphs" fill="#000">SH182024 -- 20240318 00Z</text>
<text x="826.40" y="17.00" font-size="14.5" textLength="245.20" lengthAdjust="spacingAndGlyphs" fill="#000">Ensemble Intensity Distributions [%]</text>
<text x="840.80" y="494.25" font-size="14.5" textLength="217.00" lengthAdjust="spacingAndGlyphs" fill="#000">R34 Ensemble Mean &amp; IQR [nm]</text>
<text x="7" y="819.7" font-size="8.7" textLength="528.3" lengthAdjust="spacingAndGlyphs" fill="#000">For model diagnostic purposes. Global ensembles are generally not reliable for intensity or size. Ellipses include 1 <tspan font-style="italic">σ</tspan> of spread.</text>
<rect x="765.5" y="30.5" width="369.0" height="105.75" fill="none" stroke="#000" stroke-width="1.15"/>
<line x1="759.3" y1="42.50" x2="765.5" y2="42.50" stroke="#000" stroke-width="1.15"/>
<text x="745.80" y="46.00" font-size="10.4" textLength="6.60" lengthAdjust="spacingAndGlyphs" fill="#000">+</text>
<text x="736.75" y="45.30" font-size="9.7" textLength="8.85" lengthAdjust="spacingAndGlyphs" fill="#000">64</text>
<line x1="759.3" y1="66.35" x2="765.5" y2="66.35" stroke="#000" stroke-width="1.15"/>
<text x="729.53" y="69.15" font-size="9.7" textLength="23.07" lengthAdjust="spacingAndGlyphs" fill="#000">50-64</text>
<line x1="759.3" y1="89.60" x2="765.5" y2="89.60" stroke="#000" stroke-width="1.15"/>
<text x="729.53" y="92.40" font-size="9.7" textLength="23.07" lengthAdjust="spacingAndGlyphs" fill="#000">34-50</text>
<line x1="759.3" y1="113.45" x2="765.5" y2="113.45" stroke="#000" stroke-width="1.15"/>
<text x="738.28" y="116.25" font-size="9.7" textLength="14.32" lengthAdjust="spacingAndGlyphs" fill="#000">&lt;34</text>
<line x1="759.3" y1="130.30" x2="765.5" y2="130.30" stroke="#000" stroke-width="1.15"/>
<text x="739.47" y="133.10" font-size="9.7" textLength="13.13" lengthAdjust="spacingAndGlyphs" fill="#000">lost</text>
<line x1="773.40" y1="136.25" x2="773.40" y2="142.45" stroke="#000" stroke-width="1.15"/>
<text x="771.05" y="154.75" font-size="9.7" textLength="4.69" lengthAdjust="spacingAndGlyphs" fill="#000">0</text>
<line x1="798.26" y1="136.25" x2="798.26" y2="142.45" stroke="#000" stroke-width="1.15"/>
<text x="793.57" y="154.75" font-size="9.7" textLength="9.39" lengthAdjust="spacingAndGlyphs" fill="#000">12</text>
<line x1="823.13" y1="136.25" x2="823.13" y2="142.45" stroke="#000" stroke-width="1.15"/>
<text x="818.43" y="154.75" font-size="9.7" textLength="9.39" lengthAdjust="spacingAndGlyphs" fill="#000">24</text>
<line x1="847.99" y1="136.25" x2="847.99" y2="142.45" stroke="#000" stroke-width="1.15"/>
<text x="843.30" y="154.75" font-size="9.7" textLength="9.39" lengthAdjust="spacingAndGlyphs" fill="#000">36</text>
<line x1="872.86" y1="136.25" x2="872.86" y2="142.45" stroke="#000" stroke-width="1.15"/>
<text x="868.16" y="154.75" font-size="9.7" textLength="9.39" lengthAdjust="spacingAndGlyphs" fill="#000">48</text>
<line x1="897.72" y1="136.25" x2="897.72" y2="142.45" stroke="#000" stroke-width="1.15"/>
<text x="893.03" y="154.75" font-size="9.7" textLength="9.39" lengthAdjust="spacingAndGlyphs" fill="#000">60</text>
<line x1="922.58" y1="136.25" x2="922.58" y2="142.45" stroke="#000" stroke-width="1.15"/>
<text x="917.89" y="154.75" font-size="9.7" textLength="9.39" lengthAdjust="spacingAndGlyphs" fill="#000">72</text>
<line x1="947.45" y1="136.25" x2="947.45" y2="142.45" stroke="#000" stroke-width="1.15"/>
<text x="942.75" y="154.75" font-size="9.7" textLength="9.39" lengthAdjust="spacingAndGlyphs" fill="#000">84</text>
<line x1="972.31" y1="136.25" x2="972.31" y2="142.45" stroke="#000" stroke-width="1.15"/>
<text x="967.62" y="154.75" font-size="9.7" textLength="9.39" lengthAdjust="spacingAndGlyphs" fill="#000">96</text>
<line x1="1022.04" y1="136.25" x2="1022.04" y2="142.45" stroke="#000" stroke-width="1.15"/>
<text x="1015.00" y="154.75" font-size="9.7" textLength="14.08" lengthAdjust="spacingAndGlyphs" fill="#000">120</text>
<line x1="1071.77" y1="136.25" x2="1071.77" y2="142.45" stroke="#000" stroke-width="1.15"/>
<text x="1064.73" y="154.75" font-size="9.7" textLength="14.08" lengthAdjust="spacingAndGlyphs" fill="#000">144</text>
<line x1="1121.50" y1="136.25" x2="1121.50" y2="142.45" stroke="#000" stroke-width="1.15"/>
<text x="1114.46" y="154.75" font-size="9.7" textLength="14.08" lengthAdjust="spacingAndGlyphs" fill="#000">168</text>
<rect x="765.5" y="180.5" width="369.0" height="105.75" fill="#f7fbff"/>
<rect x="941.00" y="181.00" width="38.00" height="23.00" fill="#d6e6f4"/>
<rect x="979.00" y="181.00" width="12.00" height="23.00" fill="#abd0e6"/>
<rect x="991.00" y="181.00" width="25.00" height="23.00" fill="#6baed6"/>
<rect x="1016.00" y="181.00" width="12.00" height="23.00" fill="#3787c0"/>
<rect x="1028.00" y="181.00" width="25.00" height="23.00" fill="#6baed6"/>
<rect x="1053.00" y="181.00" width="50.00" height="23.00" fill="#d6e6f4"/>
<rect x="879.00" y="204.00" width="50.00" height="23.00" fill="#d6e6f4"/>
<rect x="929.00" y="204.00" width="12.00" height="23.00" fill="#abd0e6"/>
<rect x="941.00" y="204.00" width="25.00" height="23.00" fill="#6baed6"/>
<rect x="966.00" y="204.00" width="13.00" height="23.00" fill="#3787c0"/>
<rect x="979.00" y="204.00" width="12.00" height="23.00" fill="#6baed6"/>
<rect x="991.00" y="204.00" width="25.00" height="23.00" fill="#3787c0"/>
<rect x="1016.00" y="204.00" width="37.00" height="23.00" fill="#6baed6"/>
<rect x="1053.00" y="204.00" width="25.00" height="23.00" fill="#3787c0"/>
<rect x="1078.00" y="204.00" width="37.00" height="23.00" fill="#6baed6"/>
<rect x="1115.00" y="204.00" width="13.00" height="23.00" fill="#abd0e6"/>
<rect x="1128.00" y="204.00" width="6.50" height="23.00" fill="#d6e6f4"/>
<rect x="792.00" y="227.00" width="12.00" height="24.00" fill="#3787c0"/>
<rect x="804.00" y="227.00" width="13.00" height="24.00" fill="#6baed6"/>
<rect x="817.00" y="227.00" width="12.00" height="24.00" fill="#3787c0"/>
<rect x="829.00" y="227.00" width="13.00" height="24.00" fill="#6baed6"/>
<rect x="842.00" y="227.00" width="25.00" height="24.00" fill="#abd0e6"/>
<rect x="867.00" y="227.00" width="37.00" height="24.00" fill="#6baed6"/>
<rect x="904.00" y="227.00" width="12.00" height="24.00" fill="#3787c0"/>
<rect x="916.00" y="227.00" width="25.00" height="24.00" fill="#105ca4"/>
<rect x="941.00" y="227.00" width="25.00" height="24.00" fill="#3787c0"/>
<rect x="966.00" y="227.00" width="25.00" height="24.00" fill="#6baed6"/>
<rect x="991.00" y="227.00" width="62.00" height="24.00" fill="#abd0e6"/>
<rect x="1053.00" y="227.00" width="25.00" height="24.00" fill="#6baed6"/>
<rect x="1078.00" y="227.00" width="12.00" height="24.00" fill="#3787c0"/>
<rect x="1090.00" y="227.00" width="13.00" height="24.00" fill="#6baed6"/>
<rect x="1103.00" y="227.00" width="31.50" height="24.00" fill="#3787c0"/>
<rect x="767.00" y="251.00" width="25.00" height="23.00" fill="#08306b"/>
<rect x="792.00" y="251.00" width="50.00" height="23.00" fill="#105ca4"/>
<rect x="842.00" y="251.00" width="25.00" height="23.00" fill="#08306b"/>
<rect x="867.00" y="251.00" width="12.00" height="23.00" fill="#105ca4"/>
<rect x="879.00" y="251.00" width="25.00" height="23.00" fill="#3787c0"/>
<rect x="904.00" y="251.00" width="12.00" height="23.00" fill="#6baed6"/>
<rect x="916.00" y="251.00" width="25.00" height="23.00" fill="#abd0e6"/>
<rect x="941.00" y="251.00" width="62.00" height="23.00" fill="#d6e6f4"/>
<rect x="1090.00" y="251.00" width="13.00" height="23.00" fill="#d6e6f4"/>
<rect x="1103.00" y="251.00" width="31.50" height="23.00" fill="#abd0e6"/>
<rect x="1128.00" y="274.00" width="6.50" height="12.25" fill="#d6e6f4"/>
<rect x="765.5" y="180.5" width="369.0" height="105.75" fill="none" stroke="#000" stroke-width="1.15"/>
<line x1="759.3" y1="192.50" x2="765.5" y2="192.50" stroke="#000" stroke-width="1.15"/>
<text x="745.80" y="196.00" font-size="10.4" textLength="6.60" lengthAdjust="spacingAndGlyphs" fill="#000">+</text>
<text x="736.75" y="195.30" font-size="9.7" textLength="8.85" lengthAdjust="spacingAndGlyphs" fill="#000">64</text>
<line x1="759.3" y1="216.35" x2="765.5" y2="216.35" stroke="#000" stroke-width="1.15"/>
<text x="729.53" y="219.15" font-size="9.7" textLength="23.07" lengthAdjust="spacingAndGlyphs" fill="#000">50-64</text>
<line x1="759.3" y1="239.60" x2="765.5" y2="239.60" stroke="#000" stroke-width="1.15"/>
<text x="729.53" y="242.40" font-size="9.7" textLength="23.07" lengthAdjust="spacingAndGlyphs" fill="#000">34-50</text>
<line x1="759.3" y1="263.45" x2="765.5" y2="263.45" stroke="#000" stroke-width="1.15"/>
<text x="738.28" y="266.25" font-size="9.7" textLength="14.32" lengthAdjust="spacingAndGlyphs" fill="#000">&lt;34</text>
<line x1="759.3" y1="280.30" x2="765.5" y2="280.30" stroke="#000" stroke-width="1.15"/>
<text x="739.47" y="283.10" font-size="9.7" textLength="13.13" lengthAdjust="spacingAndGlyphs" fill="#000">lost</text>
<line x1="773.40" y1="286.25" x2="773.40" y2="292.45" stroke="#000" stroke-width="1.15"/>
<text x="771.05" y="304.75" font-size="9.7" textLength="4.69" lengthAdjust="spacingAndGlyphs" fill="#000">0</text>
<line x1="798.26" y1="286.25" x2="798.26" y2="292.45" stroke="#000" stroke-width="1.15"/>
<text x="793.57" y="304.75" font-size="9.7" textLength="9.39" lengthAdjust="spacingAndGlyphs" fill="#000">12</text>
<line x1="823.13" y1="286.25" x2="823.13" y2="292.45" stroke="#000" stroke-width="1.15"/>
<text x="818.43" y="304.75" font-size="9.7" textLength="9.39" lengthAdjust="spacingAndGlyphs" fill="#000">24</text>
<line x1="847.99" y1="286.25" x2="847.99" y2="292.45" stroke="#000" stroke-width="1.15"/>
<text x="843.30" y="304.75" font-size="9.7" textLength="9.39" lengthAdjust="spacingAndGlyphs" fill="#000">36</text>
<line x1="872.86" y1="286.25" x2="872.86" y2="292.45" stroke="#000" stroke-width="1.15"/>
<text x="868.16" y="304.75" font-size="9.7" textLength="9.39" lengthAdjust="spacingAndGlyphs" fill="#000">48</text>
<line x1="897.72" y1="286.25" x2="897.72" y2="292.45" stroke="#000" stroke-width="1.15"/>
<text x="893.03" y="304.75" font-size="9.7" textLength="9.39" lengthAdjust="spacingAndGlyphs" fill="#000">60</text>
<line x1="922.58" y1="286.25" x2="922.58" y2="292.45" stroke="#000" stroke-width="1.15"/>
<text x="917.89" y="304.75" font-size="9.7" textLength="9.39" lengthAdjust="spacingAndGlyphs" fill="#000">72</text>
<line x1="947.45" y1="286.25" x2="947.45" y2="292.45" stroke="#000" stroke-width="1.15"/>
<text x="942.75" y="304.75" font-size="9.7" textLength="9.39" lengthAdjust="spacingAndGlyphs" fill="#000">84</text>
<line x1="972.31" y1="286.25" x2="972.31" y2="292.45" stroke="#000" stroke-width="1.15"/>
<text x="967.62" y="304.75" font-size="9.7" textLength="9.39" lengthAdjust="spacingAndGlyphs" fill="#000">96</text>
<line x1="1022.04" y1="286.25" x2="1022.04" y2="292.45" stroke="#000" stroke-width="1.15"/>
<text x="1015.00" y="304.75" font-size="9.7" textLength="14.08" lengthAdjust="spacingAndGlyphs" fill="#000">120</text>
<line x1="1071.77" y1="286.25" x2="1071.77" y2="292.45" stroke="#000" stroke-width="1.15"/>
<text x="1064.73" y="304.75" font-size="9.7" textLength="14.08" lengthAdjust="spacingAndGlyphs" fill="#000">144</text>
<line x1="1121.50" y1="286.25" x2="1121.50" y2="292.45" stroke="#000" stroke-width="1.15"/>
<text x="1114.46" y="304.75" font-size="9.7" textLength="14.08" lengthAdjust="spacingAndGlyphs" fill="#000">168</text>
<text x="767.20" y="190.30" font-size="8.4" textLength="30.80" lengthAdjust="spacingAndGlyphs" fill="#000">ECMWF</text>
<rect x="765.5" y="330.5" width="369.0" height="105.75" fill="#f7fcf5"/>
<rect x="765.50" y="424.00" width="369.00" height="12.25" fill="#00441b"/>
<rect x="765.5" y="330.5" width="369.0" height="105.75" fill="none" stroke="#000" stroke-width="1.15"/>
<line x1="759.3" y1="342.50" x2="765.5" y2="342.50" stroke="#000" stroke-width="1.15"/>
<text x="745.80" y="346.00" font-size="10.4" textLength="6.60" lengthAdjust="spacingAndGlyphs" fill="#000">+</text>
<text x="736.75" y="345.30" font-size="9.7" textLength="8.85" lengthAdjust="spacingAndGlyphs" fill="#000">64</text>
<line x1="759.3" y1="366.35" x2="765.5" y2="366.35" stroke="#000" stroke-width="1.15"/>
<text x="729.53" y="369.15" font-size="9.7" textLength="23.07" lengthAdjust="spacingAndGlyphs" fill="#000">50-64</text>
<line x1="759.3" y1="389.60" x2="765.5" y2="389.60" stroke="#000" stroke-width="1.15"/>
<text x="729.53" y="392.40" font-size="9.7" textLength="23.07" lengthAdjust="spacingAndGlyphs" fill="#000">34-50</text>
<line x1="759.3" y1="413.45" x2="765.5" y2="413.45" stroke="#000" stroke-width="1.15"/>
<text x="738.28" y="416.25" font-size="9.7" textLength="14.32" lengthAdjust="spacingAndGlyphs" fill="#000">&lt;34</text>
<line x1="759.3" y1="430.30" x2="765.5" y2="430.30" stroke="#000" stroke-width="1.15"/>
<text x="739.47" y="433.10" font-size="9.7" textLength="13.13" lengthAdjust="spacingAndGlyphs" fill="#000">lost</text>
<line x1="773.40" y1="436.25" x2="773.40" y2="442.45" stroke="#000" stroke-width="1.15"/>
<text x="771.05" y="454.75" font-size="9.7" textLength="4.69" lengthAdjust="spacingAndGlyphs" fill="#000">0</text>
<line x1="798.26" y1="436.25" x2="798.26" y2="442.45" stroke="#000" stroke-width="1.15"/>
<text x="793.57" y="454.75" font-size="9.7" textLength="9.39" lengthAdjust="spacingAndGlyphs" fill="#000">12</text>
<line x1="823.13" y1="436.25" x2="823.13" y2="442.45" stroke="#000" stroke-width="1.15"/>
<text x="818.43" y="454.75" font-size="9.7" textLength="9.39" lengthAdjust="spacingAndGlyphs" fill="#000">24</text>
<line x1="847.99" y1="436.25" x2="847.99" y2="442.45" stroke="#000" stroke-width="1.15"/>
<text x="843.30" y="454.75" font-size="9.7" textLength="9.39" lengthAdjust="spacingAndGlyphs" fill="#000">36</text>
<line x1="872.86" y1="436.25" x2="872.86" y2="442.45" stroke="#000" stroke-width="1.15"/>
<text x="868.16" y="454.75" font-size="9.7" textLength="9.39" lengthAdjust="spacingAndGlyphs" fill="#000">48</text>
<line x1="897.72" y1="436.25" x2="897.72" y2="442.45" stroke="#000" stroke-width="1.15"/>
<text x="893.03" y="454.75" font-size="9.7" textLength="9.39" lengthAdjust="spacingAndGlyphs" fill="#000">60</text>
<line x1="922.58" y1="436.25" x2="922.58" y2="442.45" stroke="#000" stroke-width="1.15"/>
<text x="917.89" y="454.75" font-size="9.7" textLength="9.39" lengthAdjust="spacingAndGlyphs" fill="#000">72</text>
<line x1="947.45" y1="436.25" x2="947.45" y2="442.45" stroke="#000" stroke-width="1.15"/>
<text x="942.75" y="454.75" font-size="9.7" textLength="9.39" lengthAdjust="spacingAndGlyphs" fill="#000">84</text>
<line x1="972.31" y1="436.25" x2="972.31" y2="442.45" stroke="#000" stroke-width="1.15"/>
<text x="967.62" y="454.75" font-size="9.7" textLength="9.39" lengthAdjust="spacingAndGlyphs" fill="#000">96</text>
<line x1="1022.04" y1="436.25" x2="1022.04" y2="442.45" stroke="#000" stroke-width="1.15"/>
<text x="1015.00" y="454.75" font-size="9.7" textLength="14.08" lengthAdjust="spacingAndGlyphs" fill="#000">120</text>
<line x1="1071.77" y1="436.25" x2="1071.77" y2="442.45" stroke="#000" stroke-width="1.15"/>
<text x="1064.73" y="454.75" font-size="9.7" textLength="14.08" lengthAdjust="spacingAndGlyphs" fill="#000">144</text>
<line x1="1121.50" y1="436.25" x2="1121.50" y2="442.45" stroke="#000" stroke-width="1.15"/>
<text x="1114.46" y="454.75" font-size="9.7" textLength="14.08" lengthAdjust="spacingAndGlyphs" fill="#000">168</text>
<text x="767.20" y="340.30" font-size="8.4" textLength="51.40" lengthAdjust="spacingAndGlyphs" fill="#000">MOGREPS-G</text>
<polygon points="1164.6,197.5 1168.6999999999998,185.1 1172.8,197.5" fill="#08306b"/>
<rect x="1164.6" y="197.50" width="8.20" height="14.88" fill="#105ca4"/>
<rect x="1164.6" y="212.08" width="8.20" height="14.88" fill="#3787c0"/>
<rect x="1164.6" y="226.66" width="8.20" height="14.88" fill="#6baed6"/>
<rect x="1164.6" y="241.24" width="8.20" height="14.88" fill="#abd0e6"/>
<rect x="1164.6" y="255.82" width="8.20" height="14.88" fill="#d6e6f4"/>
<polygon points="1164.6,270.4 1168.6999999999998,280.8 1172.8,270.4" fill="#f7fbff"/>
<polygon points="1164.6,197.5 1168.6999999999998,185.1 1172.8,197.5 1172.8,270.4 1168.6999999999998,280.8 1164.6,270.4" fill="none" stroke="#000" stroke-width="1.15" stroke-linejoin="miter"/>
<line x1="1172.8" y1="197.50" x2="1179.0" y2="197.50" stroke="#000" stroke-width="1.15"/>
<text x="1185.40" y="200.40" font-size="9.7" textLength="9.39" lengthAdjust="spacingAndGlyphs" fill="#000">75</text>
<line x1="1172.8" y1="212.08" x2="1179.0" y2="212.08" stroke="#000" stroke-width="1.15"/>
<text x="1185.40" y="214.98" font-size="9.7" textLength="9.39" lengthAdjust="spacingAndGlyphs" fill="#000">60</text>
<line x1="1172.8" y1="226.66" x2="1179.0" y2="226.66" stroke="#000" stroke-width="1.15"/>
<text x="1185.40" y="229.56" font-size="9.7" textLength="9.39" lengthAdjust="spacingAndGlyphs" fill="#000">45</text>
<line x1="1172.8" y1="241.24" x2="1179.0" y2="241.24" stroke="#000" stroke-width="1.15"/>
<text x="1185.40" y="244.14" font-size="9.7" textLength="9.39" lengthAdjust="spacingAndGlyphs" fill="#000">30</text>
<line x1="1172.8" y1="255.82" x2="1179.0" y2="255.82" stroke="#000" stroke-width="1.15"/>
<text x="1185.40" y="258.72" font-size="9.7" textLength="9.39" lengthAdjust="spacingAndGlyphs" fill="#000">15</text>
<line x1="1172.8" y1="270.40" x2="1179.0" y2="270.40" stroke="#000" stroke-width="1.15"/>
<text x="1185.40" y="273.30" font-size="9.7" textLength="4.69" lengthAdjust="spacingAndGlyphs" fill="#000">5</text>
<polygon points="1164.6,347.5 1168.6999999999998,335.1 1172.8,347.5" fill="#00441b"/>
<rect x="1164.6" y="347.50" width="8.20" height="14.88" fill="#0b7734"/>
<rect x="1164.6" y="362.08" width="8.20" height="14.88" fill="#37a055"/>
<rect x="1164.6" y="376.66" width="8.20" height="14.88" fill="#74c476"/>
<rect x="1164.6" y="391.24" width="8.20" height="14.88" fill="#a3da9d"/>
<rect x="1164.6" y="405.82" width="8.20" height="14.88" fill="#d5efcf"/>
<polygon points="1164.6,420.40000000000003 1168.6999999999998,430.8 1172.8,420.40000000000003" fill="#f7fcf5"/>
<polygon points="1164.6,347.5 1168.6999999999998,335.1 1172.8,347.5 1172.8,420.40000000000003 1168.6999999999998,430.8 1164.6,420.40000000000003" fill="none" stroke="#000" stroke-width="1.15" stroke-linejoin="miter"/>
<line x1="1172.8" y1="347.50" x2="1179.0" y2="347.50" stroke="#000" stroke-width="1.15"/>
<text x="1185.40" y="350.40" font-size="9.7" textLength="9.39" lengthAdjust="spacingAndGlyphs" fill="#000">75</text>
<line x1="1172.8" y1="362.08" x2="1179.0" y2="362.08" stroke="#000" stroke-width="1.15"/>
<text x="1185.40" y="364.98" font-size="9.7" textLength="9.39" lengthAdjust="spacingAndGlyphs" fill="#000">60</text>
<line x1="1172.8" y1="376.66" x2="1179.0" y2="376.66" stroke="#000" stroke-width="1.15"/>
<text x="1185.40" y="379.56" font-size="9.7" textLength="9.39" lengthAdjust="spacingAndGlyphs" fill="#000">45</text>
<line x1="1172.8" y1="391.24" x2="1179.0" y2="391.24" stroke="#000" stroke-width="1.15"/>
<text x="1185.40" y="394.14" font-size="9.7" textLength="9.39" lengthAdjust="spacingAndGlyphs" fill="#000">30</text>
<line x1="1172.8" y1="405.82" x2="1179.0" y2="405.82" stroke="#000" stroke-width="1.15"/>
<text x="1185.40" y="408.72" font-size="9.7" textLength="9.39" lengthAdjust="spacingAndGlyphs" fill="#000">15</text>
<line x1="1172.8" y1="420.40" x2="1179.0" y2="420.40" stroke="#000" stroke-width="1.15"/>
<text x="1185.40" y="423.30" font-size="9.7" textLength="4.69" lengthAdjust="spacingAndGlyphs" fill="#000">5</text>
<clipPath id="rc_NWQ"><rect x="765.5" y="527.4" width="153.0" height="121.5"/></clipPath>
<g clip-path="url(#rc_NWQ)" fill="none" stroke-linejoin="round">
<path d="M768.7 648.3 L773.9 647.8 L779.0 644.5 L784.2 635.0 L789.4 624.5 L794.5 637.8 L799.7 639.7 L804.9 646.4 L810.0 646.4 L815.2 646.4 L820.4 635.9 L825.5 636.9 L830.7 634.0 L835.9 631.6 L841.0 628.9 L846.2 629.7 L851.4 626.4 L856.6 626.4 L861.7 625.9 L866.9 626.4 L872.1 625.9 L877.2 625.9 L882.4 622.6 L887.6 625.1 L892.7 623.5 L897.9 624.9 L903.1 624.2 L908.2 628.0 L913.4 625.9 L918.6 626.8" stroke="#0343df" stroke-opacity="0.33" stroke-width="2.3"/>
<path d="M768.7 648.9 L773.9 648.9 L779.0 648.9 L784.2 648.9 L789.4 648.9 L794.5 648.9 L799.7 648.9 L804.9 648.9 L810.0 648.9 L815.2 648.9 L820.4 648.9 L825.5 648.9 L830.7 648.9 L835.9 648.9 L841.0 637.8 L846.2 636.9 L851.4 635.4 L856.6 634.6 L861.7 633.5 L866.9 634.6 L872.1 634.6 L877.2 634.6 L882.4 635.4 L887.6 636.9 L892.7 638.8 L897.9 648.3 L903.1 648.9 L908.2 648.9 L913.4 648.9 L918.6 648.9" stroke="#0343df" stroke-opacity="0.33" stroke-width="2.3"/>
<path d="M768.7 648.3 L773.9 647.4 L779.0 645.5 L784.2 643.0 L789.4 638.4 L794.5 642.6 L799.7 643.0 L804.9 646.1 L810.0 644.1 L815.2 644.5 L820.4 641.7 L825.5 643.6 L830.7 639.7 L835.9 638.8 L841.0 633.7 L846.2 634.4 L851.4 629.7 L856.6 631.8 L861.7 628.9 L866.9 630.4 L872.1 628.0 L877.2 630.3 L882.4 627.0 L887.6 631.6 L892.7 630.7 L897.9 635.0 L903.1 634.0 L908.2 636.5 L913.4 637.3 L918.6 638.4" stroke="#0343df" stroke-width="2.4"/>
<line x1="767.70" y1="648.35" x2="914.60" y2="648.35" stroke="#15b01a" stroke-width="1.5"/>
</g>
<rect x="765.5" y="527.4" width="153.0" height="121.5" fill="none" stroke="#000" stroke-width="1.15"/>
<line x1="768.70" y1="648.9" x2="768.70" y2="655.1" stroke="#000" stroke-width="1.15"/>
<text x="766.35" y="667.20" font-size="9.7" textLength="4.69" lengthAdjust="spacingAndGlyphs" fill="#000">0</text>
<line x1="789.37" y1="648.9" x2="789.37" y2="655.1" stroke="#000" stroke-width="1.15"/>
<text x="784.68" y="667.20" font-size="9.7" textLength="9.39" lengthAdjust="spacingAndGlyphs" fill="#000">24</text>
<line x1="810.04" y1="648.9" x2="810.04" y2="655.1" stroke="#000" stroke-width="1.15"/>
<text x="805.35" y="667.20" font-size="9.7" textLength="9.39" lengthAdjust="spacingAndGlyphs" fill="#000">48</text>
<line x1="830.71" y1="648.9" x2="830.71" y2="655.1" stroke="#000" stroke-width="1.15"/>
<text x="826.02" y="667.20" font-size="9.7" textLength="9.39" lengthAdjust="spacingAndGlyphs" fill="#000">72</text>
<line x1="851.38" y1="648.9" x2="851.38" y2="655.1" stroke="#000" stroke-width="1.15"/>
<text x="846.69" y="667.20" font-size="9.7" textLength="9.39" lengthAdjust="spacingAndGlyphs" fill="#000">96</text>
<line x1="872.06" y1="648.9" x2="872.06" y2="655.1" stroke="#000" stroke-width="1.15"/>
<text x="865.02" y="667.20" font-size="9.7" textLength="14.08" lengthAdjust="spacingAndGlyphs" fill="#000">120</text>
<line x1="892.73" y1="648.9" x2="892.73" y2="655.1" stroke="#000" stroke-width="1.15"/>
<text x="885.69" y="667.20" font-size="9.7" textLength="14.08" lengthAdjust="spacingAndGlyphs" fill="#000">144</text>
<line x1="913.40" y1="648.9" x2="913.40" y2="655.1" stroke="#000" stroke-width="1.15"/>
<text x="906.36" y="667.20" font-size="9.7" textLength="14.08" lengthAdjust="spacingAndGlyphs" fill="#000">168</text>
<line x1="759.3" y1="648.90" x2="765.5" y2="648.90" stroke="#000" stroke-width="1.15"/>
<text x="748.11" y="651.80" font-size="9.7" textLength="4.69" lengthAdjust="spacingAndGlyphs" fill="#000">0</text>
<line x1="759.3" y1="628.65" x2="765.5" y2="628.65" stroke="#000" stroke-width="1.15"/>
<text x="743.41" y="631.55" font-size="9.7" textLength="9.39" lengthAdjust="spacingAndGlyphs" fill="#000">50</text>
<line x1="759.3" y1="608.40" x2="765.5" y2="608.40" stroke="#000" stroke-width="1.15"/>
<text x="738.72" y="611.30" font-size="9.7" textLength="14.08" lengthAdjust="spacingAndGlyphs" fill="#000">100</text>
<line x1="759.3" y1="588.15" x2="765.5" y2="588.15" stroke="#000" stroke-width="1.15"/>
<text x="738.72" y="591.05" font-size="9.7" textLength="14.08" lengthAdjust="spacingAndGlyphs" fill="#000">150</text>
<line x1="759.3" y1="567.90" x2="765.5" y2="567.90" stroke="#000" stroke-width="1.15"/>
<text x="738.72" y="570.80" font-size="9.7" textLength="14.08" lengthAdjust="spacingAndGlyphs" fill="#000">200</text>
<line x1="759.3" y1="547.65" x2="765.5" y2="547.65" stroke="#000" stroke-width="1.15"/>
<text x="738.72" y="550.55" font-size="9.7" textLength="14.08" lengthAdjust="spacingAndGlyphs" fill="#000">250</text>
<line x1="759.3" y1="527.40" x2="765.5" y2="527.40" stroke="#000" stroke-width="1.15"/>
<text x="738.72" y="530.30" font-size="9.7" textLength="14.08" lengthAdjust="spacingAndGlyphs" fill="#000">300</text>
<text x="768.40" y="538.80" font-size="8.4" textLength="21.20" lengthAdjust="spacingAndGlyphs" fill="#000">NWQ</text>
<clipPath id="rc_NEQ"><rect x="981.8" y="527.4" width="152.79999999999995" height="121.5"/></clipPath>
<g clip-path="url(#rc_NEQ)" fill="none" stroke-linejoin="round">
<path d="M984.3 648.3 L989.5 648.1 L994.6 648.1 L999.8 647.9 L1004.9 647.4 L1010.1 647.0 L1015.2 646.4 L1020.4 646.4 L1025.6 646.4 L1030.7 646.1 L1035.9 635.6 L1041.0 637.8 L1046.2 630.8 L1051.3 630.6 L1056.5 629.3 L1061.7 629.3 L1066.8 627.0 L1072.0 625.5 L1077.1 625.5 L1082.3 620.7 L1087.4 619.2 L1092.6 616.9 L1097.8 618.2 L1102.9 615.0 L1108.1 613.1 L1113.2 615.0 L1118.4 615.4 L1123.5 612.7 L1128.7 614.4 L1133.9 614.0" stroke="#0343df" stroke-opacity="0.33" stroke-width="2.3"/>
<path d="M984.3 648.9 L989.5 648.9 L994.6 648.9 L999.8 648.9 L1004.9 648.9 L1010.1 648.9 L1015.2 648.9 L1020.4 648.9 L1025.6 648.9 L1030.7 648.9 L1035.9 648.9 L1041.0 648.9 L1046.2 648.9 L1051.3 648.5 L1056.5 641.7 L1061.7 637.8 L1066.8 634.6 L1072.0 634.0 L1077.1 632.7 L1082.3 633.5 L1087.4 630.8 L1092.6 630.8 L1097.8 631.2 L1102.9 630.8 L1108.1 630.8 L1113.2 636.9 L1118.4 648.9 L1123.5 648.9 L1128.7 648.9 L1133.9 648.9" stroke="#0343df" stroke-opacity="0.33" stroke-width="2.3"/>
<path d="M984.3 648.3 L989.5 648.1 L994.6 648.1 L999.8 647.8 L1004.9 647.0 L1010.1 646.8 L1015.2 646.4 L1020.4 646.4 L1025.6 644.9 L1030.7 644.9 L1035.9 643.0 L1041.0 643.0 L1046.2 639.7 L1051.3 637.8 L1056.5 635.0 L1061.7 633.5 L1066.8 630.8 L1072.0 630.6 L1077.1 628.9 L1082.3 628.5 L1087.4 624.2 L1092.6 625.1 L1097.8 624.3 L1102.9 624.0 L1108.1 623.5 L1113.2 627.0 L1118.4 628.7 L1123.5 630.4 L1128.7 631.6 L1133.9 630.4" stroke="#0343df" stroke-width="2.4"/>
<line x1="983.30" y1="648.35" x2="1129.90" y2="648.35" stroke="#15b01a" stroke-width="1.5"/>
</g>
<rect x="981.8" y="527.4" width="152.79999999999995" height="121.5" fill="none" stroke="#000" stroke-width="1.15"/>
<line x1="984.30" y1="648.9" x2="984.30" y2="655.1" stroke="#000" stroke-width="1.15"/>
<text x="981.95" y="667.20" font-size="9.7" textLength="4.69" lengthAdjust="spacingAndGlyphs" fill="#000">0</text>
<line x1="1004.93" y1="648.9" x2="1004.93" y2="655.1" stroke="#000" stroke-width="1.15"/>
<text x="1000.23" y="667.20" font-size="9.7" textLength="9.39" lengthAdjust="spacingAndGlyphs" fill="#000">24</text>
<line x1="1025.56" y1="648.9" x2="1025.56" y2="655.1" stroke="#000" stroke-width="1.15"/>
<text x="1020.86" y="667.20" font-size="9.7" textLength="9.39" lengthAdjust="spacingAndGlyphs" fill="#000">48</text>
<line x1="1046.18" y1="648.9" x2="1046.18" y2="655.1" stroke="#000" stroke-width="1.15"/>
<text x="1041.49" y="667.20" font-size="9.7" textLength="9.39" lengthAdjust="spacingAndGlyphs" fill="#000">72</text>
<line x1="1066.81" y1="648.9" x2="1066.81" y2="655.1" stroke="#000" stroke-width="1.15"/>
<text x="1062.12" y="667.20" font-size="9.7" textLength="9.39" lengthAdjust="spacingAndGlyphs" fill="#000">96</text>
<line x1="1087.44" y1="648.9" x2="1087.44" y2="655.1" stroke="#000" stroke-width="1.15"/>
<text x="1080.40" y="667.20" font-size="9.7" textLength="14.08" lengthAdjust="spacingAndGlyphs" fill="#000">120</text>
<line x1="1108.07" y1="648.9" x2="1108.07" y2="655.1" stroke="#000" stroke-width="1.15"/>
<text x="1101.03" y="667.20" font-size="9.7" textLength="14.08" lengthAdjust="spacingAndGlyphs" fill="#000">144</text>
<line x1="1128.70" y1="648.9" x2="1128.70" y2="655.1" stroke="#000" stroke-width="1.15"/>
<text x="1121.66" y="667.20" font-size="9.7" textLength="14.08" lengthAdjust="spacingAndGlyphs" fill="#000">168</text>
<line x1="1134.6" y1="648.90" x2="1140.8" y2="648.90" stroke="#000" stroke-width="1.15"/>
<text x="1146.40" y="651.80" font-size="9.7" textLength="4.69" lengthAdjust="spacingAndGlyphs" fill="#000">0</text>
<line x1="1134.6" y1="628.65" x2="1140.8" y2="628.65" stroke="#000" stroke-width="1.15"/>
<text x="1146.40" y="631.55" font-size="9.7" textLength="9.39" lengthAdjust="spacingAndGlyphs" fill="#000">50</text>
<line x1="1134.6" y1="608.40" x2="1140.8" y2="608.40" stroke="#000" stroke-width="1.15"/>
<text x="1146.40" y="611.30" font-size="9.7" textLength="14.08" lengthAdjust="spacingAndGlyphs" fill="#000">100</text>
<line x1="1134.6" y1="588.15" x2="1140.8" y2="588.15" stroke="#000" stroke-width="1.15"/>
<text x="1146.40" y="591.05" font-size="9.7" textLength="14.08" lengthAdjust="spacingAndGlyphs" fill="#000">150</text>
<line x1="1134.6" y1="567.90" x2="1140.8" y2="567.90" stroke="#000" stroke-width="1.15"/>
<text x="1146.40" y="570.80" font-size="9.7" textLength="14.08" lengthAdjust="spacingAndGlyphs" fill="#000">200</text>
<line x1="1134.6" y1="547.65" x2="1140.8" y2="547.65" stroke="#000" stroke-width="1.15"/>
<text x="1146.40" y="550.55" font-size="9.7" textLength="14.08" lengthAdjust="spacingAndGlyphs" fill="#000">250</text>
<line x1="1134.6" y1="527.40" x2="1140.8" y2="527.40" stroke="#000" stroke-width="1.15"/>
<text x="1146.40" y="530.30" font-size="9.7" textLength="14.08" lengthAdjust="spacingAndGlyphs" fill="#000">300</text>
<text x="984.70" y="538.80" font-size="8.4" textLength="18.20" lengthAdjust="spacingAndGlyphs" fill="#000">NEQ</text>
<clipPath id="rc_SWQ"><rect x="765.5" y="693.3" width="153.0" height="121.0"/></clipPath>
<g clip-path="url(#rc_SWQ)" fill="none" stroke-linejoin="round">
<path d="M768.7 813.7 L773.9 812.4 L779.0 802.9 L784.2 793.9 L789.4 795.8 L794.5 801.9 L799.7 799.1 L804.9 808.0 L810.0 794.3 L815.2 796.6 L820.4 793.0 L825.5 793.0 L830.7 785.7 L835.9 784.4 L841.0 782.5 L846.2 776.2 L851.4 768.6 L856.6 771.4 L861.7 768.6 L866.9 767.6 L872.1 760.9 L877.2 771.1 L882.4 771.4 L887.6 773.9 L892.7 773.7 L897.9 772.8 L903.1 773.3 L908.2 774.9 L913.4 777.2 L918.6 781.9" stroke="#0343df" stroke-opacity="0.33" stroke-width="2.3"/>
<path d="M768.7 814.3 L773.9 814.3 L779.0 814.3 L784.2 814.3 L789.4 814.3 L794.5 814.3 L799.7 814.3 L804.9 814.3 L810.0 814.3 L815.2 814.3 L820.4 814.3 L825.5 813.5 L830.7 801.9 L835.9 799.6 L841.0 795.8 L846.2 792.8 L851.4 786.3 L856.6 787.6 L861.7 787.6 L866.9 785.7 L872.1 784.8 L877.2 785.7 L882.4 787.2 L887.6 790.1 L892.7 787.6 L897.9 790.5 L903.1 791.4 L908.2 799.1 L913.4 804.8 L918.6 813.3" stroke="#0343df" stroke-opacity="0.33" stroke-width="2.3"/>
<path d="M768.7 813.7 L773.9 813.3 L779.0 809.5 L784.2 805.3 L789.4 803.8 L794.5 808.6 L799.7 807.6 L804.9 809.9 L810.0 804.8 L815.2 805.3 L820.4 801.9 L825.5 800.6 L830.7 794.9 L835.9 792.8 L841.0 788.6 L846.2 783.8 L851.4 778.1 L856.6 779.5 L861.7 777.2 L866.9 775.8 L872.1 772.0 L877.2 778.7 L882.4 777.2 L887.6 781.9 L892.7 779.5 L897.9 780.9 L903.1 783.4 L908.2 787.6 L913.4 789.5 L918.6 794.9" stroke="#0343df" stroke-width="2.4"/>
<line x1="767.70" y1="813.75" x2="914.60" y2="813.75" stroke="#15b01a" stroke-width="1.5"/>
</g>
<rect x="765.5" y="693.3" width="153.0" height="121.0" fill="none" stroke="#000" stroke-width="1.15"/>
<line x1="768.70" y1="814.3" x2="768.70" y2="820.5" stroke="#000" stroke-width="1.15"/>
<text x="766.35" y="832.60" font-size="9.7" textLength="4.69" lengthAdjust="spacingAndGlyphs" fill="#000">0</text>
<line x1="789.37" y1="814.3" x2="789.37" y2="820.5" stroke="#000" stroke-width="1.15"/>
<text x="784.68" y="832.60" font-size="9.7" textLength="9.39" lengthAdjust="spacingAndGlyphs" fill="#000">24</text>
<line x1="810.04" y1="814.3" x2="810.04" y2="820.5" stroke="#000" stroke-width="1.15"/>
<text x="805.35" y="832.60" font-size="9.7" textLength="9.39" lengthAdjust="spacingAndGlyphs" fill="#000">48</text>
<line x1="830.71" y1="814.3" x2="830.71" y2="820.5" stroke="#000" stroke-width="1.15"/>
<text x="826.02" y="832.60" font-size="9.7" textLength="9.39" lengthAdjust="spacingAndGlyphs" fill="#000">72</text>
<line x1="851.38" y1="814.3" x2="851.38" y2="820.5" stroke="#000" stroke-width="1.15"/>
<text x="846.69" y="832.60" font-size="9.7" textLength="9.39" lengthAdjust="spacingAndGlyphs" fill="#000">96</text>
<line x1="872.06" y1="814.3" x2="872.06" y2="820.5" stroke="#000" stroke-width="1.15"/>
<text x="865.02" y="832.60" font-size="9.7" textLength="14.08" lengthAdjust="spacingAndGlyphs" fill="#000">120</text>
<line x1="892.73" y1="814.3" x2="892.73" y2="820.5" stroke="#000" stroke-width="1.15"/>
<text x="885.69" y="832.60" font-size="9.7" textLength="14.08" lengthAdjust="spacingAndGlyphs" fill="#000">144</text>
<line x1="913.40" y1="814.3" x2="913.40" y2="820.5" stroke="#000" stroke-width="1.15"/>
<text x="906.36" y="832.60" font-size="9.7" textLength="14.08" lengthAdjust="spacingAndGlyphs" fill="#000">168</text>
<line x1="759.3" y1="814.30" x2="765.5" y2="814.30" stroke="#000" stroke-width="1.15"/>
<text x="748.11" y="817.20" font-size="9.7" textLength="4.69" lengthAdjust="spacingAndGlyphs" fill="#000">0</text>
<line x1="759.3" y1="794.13" x2="765.5" y2="794.13" stroke="#000" stroke-width="1.15"/>
<text x="743.41" y="797.03" font-size="9.7" textLength="9.39" lengthAdjust="spacingAndGlyphs" fill="#000">50</text>
<line x1="759.3" y1="773.97" x2="765.5" y2="773.97" stroke="#000" stroke-width="1.15"/>
<text x="738.72" y="776.87" font-size="9.7" textLength="14.08" lengthAdjust="spacingAndGlyphs" fill="#000">100</text>
<line x1="759.3" y1="753.80" x2="765.5" y2="753.80" stroke="#000" stroke-width="1.15"/>
<text x="738.72" y="756.70" font-size="9.7" textLength="14.08" lengthAdjust="spacingAndGlyphs" fill="#000">150</text>
<line x1="759.3" y1="733.63" x2="765.5" y2="733.63" stroke="#000" stroke-width="1.15"/>
<text x="738.72" y="736.53" font-size="9.7" textLength="14.08" lengthAdjust="spacingAndGlyphs" fill="#000">200</text>
<line x1="759.3" y1="713.47" x2="765.5" y2="713.47" stroke="#000" stroke-width="1.15"/>
<text x="738.72" y="716.37" font-size="9.7" textLength="14.08" lengthAdjust="spacingAndGlyphs" fill="#000">250</text>
<line x1="759.3" y1="693.30" x2="765.5" y2="693.30" stroke="#000" stroke-width="1.15"/>
<text x="738.72" y="696.20" font-size="9.7" textLength="14.08" lengthAdjust="spacingAndGlyphs" fill="#000">300</text>
<text x="768.40" y="704.70" font-size="8.4" textLength="20.20" lengthAdjust="spacingAndGlyphs" fill="#000">SWQ</text>
<clipPath id="rc_SEQ"><rect x="981.8" y="693.3" width="152.79999999999995" height="121.0"/></clipPath>
<g clip-path="url(#rc_SEQ)" fill="none" stroke-linejoin="round">
<path d="M984.3 813.9 L989.5 811.4 L994.6 802.9 L999.8 811.4 L1004.9 811.4 L1010.1 811.4 L1015.2 811.4 L1020.4 798.5 L1025.6 794.9 L1030.7 795.8 L1035.9 790.9 L1041.0 789.5 L1046.2 784.4 L1051.3 784.4 L1056.5 781.9 L1061.7 777.7 L1066.8 772.4 L1072.0 773.7 L1077.1 769.9 L1082.3 767.2 L1087.4 764.8 L1092.6 770.5 L1097.8 769.1 L1102.9 770.1 L1108.1 768.2 L1113.2 767.6 L1118.4 765.1 L1123.5 764.8 L1128.7 765.1 L1133.9 772.4" stroke="#0343df" stroke-opacity="0.33" stroke-width="2.3"/>
<path d="M984.3 814.3 L989.5 814.3 L994.6 814.3 L999.8 814.3 L1004.9 814.3 L1010.1 814.3 L1015.2 814.3 L1020.4 814.3 L1025.6 814.3 L1030.7 814.3 L1035.9 814.3 L1041.0 814.3 L1046.2 813.5 L1051.3 798.1 L1056.5 793.9 L1061.7 792.0 L1066.8 789.1 L1072.0 789.0 L1077.1 785.3 L1082.3 785.3 L1087.4 783.4 L1092.6 784.4 L1097.8 785.1 L1102.9 787.6 L1108.1 784.4 L1113.2 786.7 L1118.4 792.4 L1123.5 793.3 L1128.7 797.2 L1133.9 809.5" stroke="#0343df" stroke-opacity="0.33" stroke-width="2.3"/>
<path d="M984.3 813.9 L989.5 813.3 L994.6 807.6 L999.8 809.1 L1004.9 810.5 L1010.1 810.5 L1015.2 810.1 L1020.4 808.0 L1025.6 805.3 L1030.7 803.8 L1035.9 801.6 L1041.0 799.6 L1046.2 794.3 L1051.3 792.0 L1056.5 788.6 L1061.7 786.3 L1066.8 781.9 L1072.0 780.9 L1077.1 778.1 L1082.3 776.2 L1087.4 773.0 L1092.6 777.7 L1097.8 777.2 L1102.9 779.5 L1108.1 776.2 L1113.2 777.2 L1118.4 779.0 L1123.5 779.0 L1128.7 780.4 L1133.9 785.7" stroke="#0343df" stroke-width="2.4"/>
<line x1="983.30" y1="813.75" x2="1129.90" y2="813.75" stroke="#15b01a" stroke-width="1.5"/>
</g>
<rect x="981.8" y="693.3" width="152.79999999999995" height="121.0" fill="none" stroke="#000" stroke-width="1.15"/>
<line x1="984.30" y1="814.3" x2="984.30" y2="820.5" stroke="#000" stroke-width="1.15"/>
<text x="981.95" y="832.60" font-size="9.7" textLength="4.69" lengthAdjust="spacingAndGlyphs" fill="#000">0</text>
<line x1="1004.93" y1="814.3" x2="1004.93" y2="820.5" stroke="#000" stroke-width="1.15"/>
<text x="1000.23" y="832.60" font-size="9.7" textLength="9.39" lengthAdjust="spacingAndGlyphs" fill="#000">24</text>
<line x1="1025.56" y1="814.3" x2="1025.56" y2="820.5" stroke="#000" stroke-width="1.15"/>
<text x="1020.86" y="832.60" font-size="9.7" textLength="9.39" lengthAdjust="spacingAndGlyphs" fill="#000">48</text>
<line x1="1046.18" y1="814.3" x2="1046.18" y2="820.5" stroke="#000" stroke-width="1.15"/>
<text x="1041.49" y="832.60" font-size="9.7" textLength="9.39" lengthAdjust="spacingAndGlyphs" fill="#000">72</text>
<line x1="1066.81" y1="814.3" x2="1066.81" y2="820.5" stroke="#000" stroke-width="1.15"/>
<text x="1062.12" y="832.60" font-size="9.7" textLength="9.39" lengthAdjust="spacingAndGlyphs" fill="#000">96</text>
<line x1="1087.44" y1="814.3" x2="1087.44" y2="820.5" stroke="#000" stroke-width="1.15"/>
<text x="1080.40" y="832.60" font-size="9.7" textLength="14.08" lengthAdjust="spacingAndGlyphs" fill="#000">120</text>
<line x1="1108.07" y1="814.3" x2="1108.07" y2="820.5" stroke="#000" stroke-width="1.15"/>
<text x="1101.03" y="832.60" font-size="9.7" textLength="14.08" lengthAdjust="spacingAndGlyphs" fill="#000">144</text>
<line x1="1128.70" y1="814.3" x2="1128.70" y2="820.5" stroke="#000" stroke-width="1.15"/>
<text x="1121.66" y="832.60" font-size="9.7" textLength="14.08" lengthAdjust="spacingAndGlyphs" fill="#000">168</text>
<line x1="1134.6" y1="814.30" x2="1140.8" y2="814.30" stroke="#000" stroke-width="1.15"/>
<text x="1146.40" y="817.20" font-size="9.7" textLength="4.69" lengthAdjust="spacingAndGlyphs" fill="#000">0</text>
<line x1="1134.6" y1="794.13" x2="1140.8" y2="794.13" stroke="#000" stroke-width="1.15"/>
<text x="1146.40" y="797.03" font-size="9.7" textLength="9.39" lengthAdjust="spacingAndGlyphs" fill="#000">50</text>
<line x1="1134.6" y1="773.97" x2="1140.8" y2="773.97" stroke="#000" stroke-width="1.15"/>
<text x="1146.40" y="776.87" font-size="9.7" textLength="14.08" lengthAdjust="spacingAndGlyphs" fill="#000">100</text>
<line x1="1134.6" y1="753.80" x2="1140.8" y2="753.80" stroke="#000" stroke-width="1.15"/>
<text x="1146.40" y="756.70" font-size="9.7" textLength="14.08" lengthAdjust="spacingAndGlyphs" fill="#000">150</text>
<line x1="1134.6" y1="733.63" x2="1140.8" y2="733.63" stroke="#000" stroke-width="1.15"/>
<text x="1146.40" y="736.53" font-size="9.7" textLength="14.08" lengthAdjust="spacingAndGlyphs" fill="#000">200</text>
<line x1="1134.6" y1="713.47" x2="1140.8" y2="713.47" stroke="#000" stroke-width="1.15"/>
<text x="1146.40" y="716.37" font-size="9.7" textLength="14.08" lengthAdjust="spacingAndGlyphs" fill="#000">250</text>
<line x1="1134.6" y1="693.30" x2="1140.8" y2="693.30" stroke="#000" stroke-width="1.15"/>
<text x="1146.40" y="696.20" font-size="9.7" textLength="14.08" lengthAdjust="spacingAndGlyphs" fill="#000">300</text>
<text x="984.70" y="704.70" font-size="8.4" textLength="17.20" lengthAdjust="spacingAndGlyphs" fill="#000">SEQ</text>
</svg></body></html>
